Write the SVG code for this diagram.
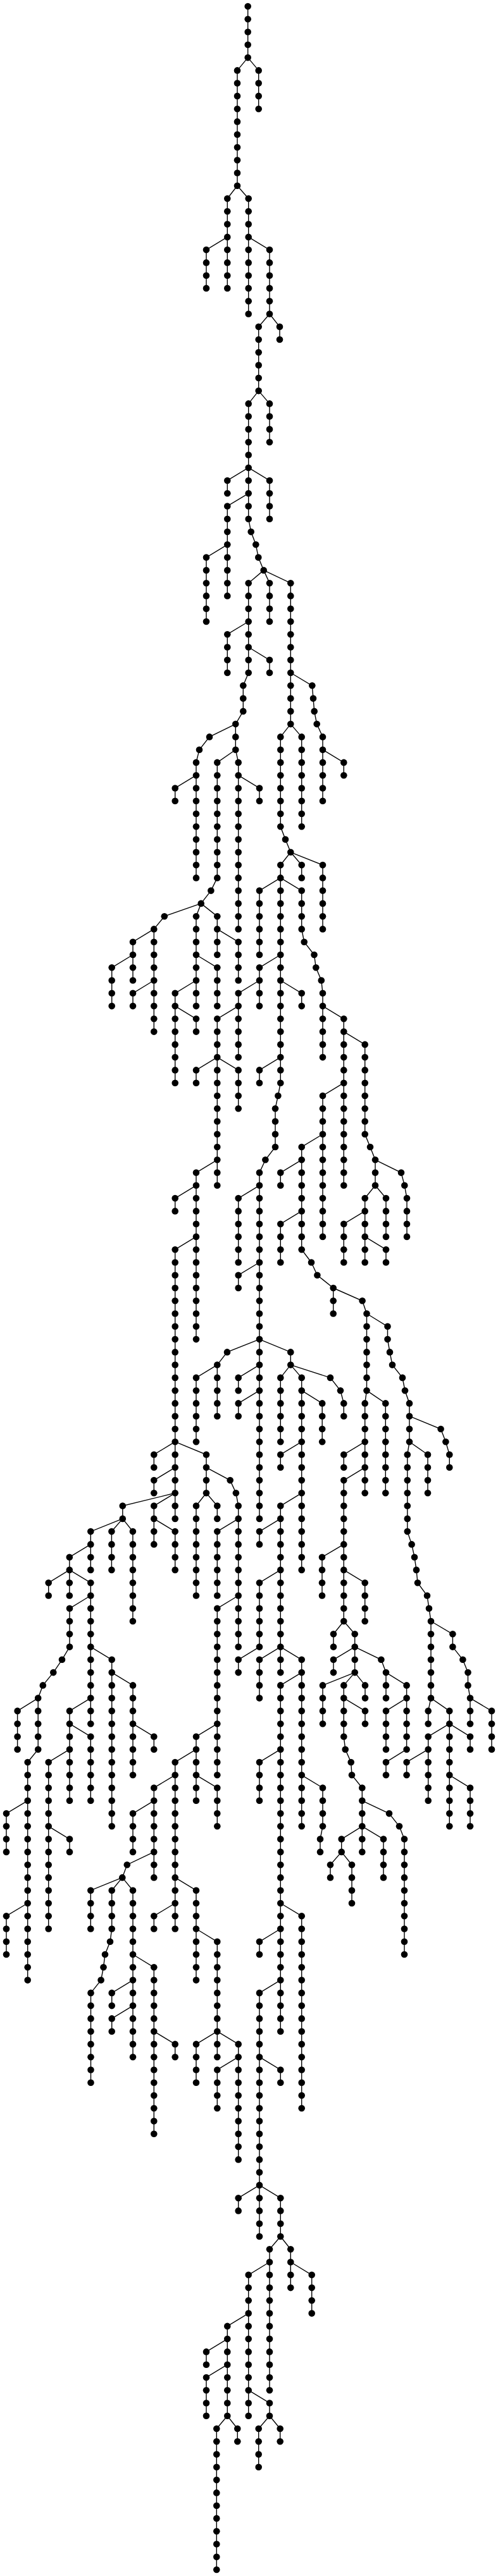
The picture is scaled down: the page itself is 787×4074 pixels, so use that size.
<svg xmlns="http://www.w3.org/2000/svg" width="787" height="4074" viewBox="0 0 787 4074">
<style>
.e polyline{fill:none;stroke:#000;stroke-width:1.4}
.n circle{fill:#000;r:5.3px}
</style>
<rect width="787" height="4074" fill="#fff"/>
<g id="connectors" class="e">
<polyline points="391.7,10 391.7,91.1"/>
<polyline points="391.7,91.1 408.7,111.4 408.7,172.2"/>
<polyline points="391.7,91.1 375,111.4 375,293.8"/>
<polyline points="375,293.8 359.3,314.1 359.3,374.9"/>
<polyline points="375,293.8 392.7,314.1 392.7,374.9"/>
<polyline points="359.3,374.9 326,395.1 326,455.9"/>
<polyline points="359.3,374.9 359.3,455.9"/>
<polyline points="392.7,374.9 392.7,496.5"/>
<polyline points="392.7,374.9 426,395.1 426,496.5"/>
<polyline points="426,496.5 442,516.8 442,537"/>
<polyline points="426,496.5 408.7,516.8 408.7,618.1"/>
<polyline points="408.7,618.1 426,638.4 426,699.2"/>
<polyline points="408.7,618.1 392.7,638.4 392.7,739.7"/>
<polyline points="392.7,739.7 359.3,760 359.3,780.3"/>
<polyline points="392.7,739.7 426,760 426,820.8"/>
<polyline points="392.7,739.7 392.7,780.3"/>
<polyline points="392.7,780.3 359.3,800.5 359.3,861.3"/>
<polyline points="359.3,861.3 326,881.6 326,983"/>
<polyline points="359.3,861.3 359.3,942.4"/>
<polyline points="392.7,780.3 392.7,820.8 396.7,841.1 404.3,861.3 408.3,881.6 416.7,901.9"/>
<polyline points="416.7,901.9 392.7,922.2 392.7,983"/>
<polyline points="416.7,901.9 426,922.2 426,983"/>
<polyline points="416.7,901.9 459.3,922.2 459.3,1064"/>
<polyline points="392.7,983 359.3,1003.2 359.3,1064"/>
<polyline points="392.7,983 392.7,1023.5"/>
<polyline points="392.7,1023.5 426,1043.8 426,1064"/>
<polyline points="392.7,1023.5 392.7,1064 384.3,1084.3 384.3,1124.9 372.3,1145.1"/>
<polyline points="372.3,1145.1 331,1165.4 315,1185.7 310,1205.9 310,1226.2"/>
<polyline points="310,1226.2 276.7,1246.5 276.7,1266.7"/>
<polyline points="310,1226.2 310,1388.4"/>
<polyline points="372.3,1145.1 372.3,1185.7"/>
<polyline points="372.3,1185.7 343.3,1205.9 343.3,1388.4 333.4,1408.6 317.7,1428.9"/>
<polyline points="372.3,1185.7 376.7,1205.9 376.7,1226.2"/>
<polyline points="376.7,1226.2 410,1246.5 410,1266.7"/>
<polyline points="376.7,1226.2 376.7,1469.4"/>
<polyline points="459.3,1064 493.3,1084.3 495,1104.6 496.7,1124.9 500.7,1145.1 510,1165.4 510,1185.7"/>
<polyline points="510,1185.7 543.3,1205.9 543.3,1226.2"/>
<polyline points="510,1185.7 510,1266.7"/>
<polyline points="459.3,1064 459.3,1145.1"/>
<polyline points="459.3,1145.1 443.3,1165.4 443.3,1307.3 451,1327.6 459.3,1347.8"/>
<polyline points="459.3,1145.1 476.7,1165.4 476.7,1307.3"/>
<polyline points="459.3,1347.8 443.3,1368.1 443.3,1388.4"/>
<polyline points="459.3,1347.8 476.7,1368.1 476.7,1388.4"/>
<polyline points="459.3,1347.8 510,1368.1 510,1469.4"/>
<polyline points="443.3,1388.4 410,1408.6 410,1510"/>
<polyline points="443.3,1388.4 476.7,1408.6 476.7,1469.4 480.7,1489.7 496.5,1510 499.3,1530.3 507.8,1550.5 510,1570.8 510,1591.1"/>
<polyline points="510,1591.1 510,1672.1"/>
<polyline points="510,1591.1 543.3,1611.3 543.3,1631.6"/>
<polyline points="543.3,1631.6 576.7,1651.9 576.7,1793.8 585,1814 593,1834.3"/>
<polyline points="593,1834.3 634,1854.6 639.3,1874.8 643,1895.1 643,1955.9"/>
<polyline points="593,1834.3 593,1874.8"/>
<polyline points="593,1874.8 610,1895.1 610,1955.9"/>
<polyline points="593,1874.8 576.7,1895.1 576.7,1915.4"/>
<polyline points="576.7,1915.4 543.3,1935.7 543.3,1996.5"/>
<polyline points="576.7,1915.4 576.7,1955.9"/>
<polyline points="576.7,1955.9 610,1976.2 610,1996.5"/>
<polyline points="576.7,1955.9 576.7,1996.5"/>
<polyline points="543.3,1631.6 543.3,1712.7"/>
<polyline points="543.3,1712.7 543.3,1874.8"/>
<polyline points="543.3,1712.7 510,1733 510,1793.8"/>
<polyline points="510,1793.8 510,1955.9"/>
<polyline points="510,1793.8 476.7,1814 476.7,1834.3"/>
<polyline points="476.7,1834.3 443.3,1854.6 443.3,1874.8"/>
<polyline points="476.7,1834.3 476.7,1915.4"/>
<polyline points="476.7,1915.4 443.3,1935.7 443.3,1996.5"/>
<polyline points="476.7,1915.4 476.7,1976.2 492,1996.5"/>
<polyline points="443.3,1388.4 443.3,1510"/>
<polyline points="443.3,1510 410,1530.3 410,1550.5"/>
<polyline points="410,1550.5 410,1591.1"/>
<polyline points="410,1550.5 376.7,1570.8 376.7,1591.1"/>
<polyline points="376.7,1591.1 376.7,1672.1"/>
<polyline points="376.7,1591.1 343.3,1611.3 343.3,1672.1"/>
<polyline points="343.3,1672.1 310,1692.4 310,1712.7"/>
<polyline points="343.3,1672.1 376.7,1692.4 376.7,1753.2"/>
<polyline points="343.3,1672.1 343.3,1834.3"/>
<polyline points="343.3,1834.3 343.3,1874.8"/>
<polyline points="343.3,1834.3 310,1854.6 310,1874.8"/>
<polyline points="310,1874.8 276.7,1895.1 276.7,1915.4"/>
<polyline points="310,1874.8 310,1955.9"/>
<polyline points="310,1955.9 276.7,1976.2 276.7,2280.2"/>
<polyline points="310,1955.9 310,2118.1"/>
<polyline points="443.3,1510 443.3,1550.5"/>
<polyline points="443.3,1550.5 476.7,1570.8 476.7,1591.1"/>
<polyline points="443.3,1550.5 443.3,1672.1"/>
<polyline points="443.3,1672.1 410,1692.4 410,1712.7"/>
<polyline points="443.3,1672.1 443.3,1712.7 439.4,1733 435,1753.2 435,1814 419.4,1834.3 410,1854.6 410,1874.8"/>
<polyline points="410,1874.8 376.7,1895.1 376.7,1996.5"/>
<polyline points="410,1874.8 410,2118.1"/>
<polyline points="410,1996.5 376.7,2016.7 376.7,2037"/>
<polyline points="317.7,1428.9 259.8,1449.2 243.3,1469.4"/>
<polyline points="243.3,1469.4 210,1489.7 210,1510"/>
<polyline points="210,1510 176.7,1530.3 176.7,1591.1"/>
<polyline points="210,1510 210,1550.5"/>
<polyline points="243.3,1469.4 243.3,1550.5"/>
<polyline points="243.3,1550.5 210,1570.8 210,1591.1"/>
<polyline points="243.3,1550.5 243.3,1631.6"/>
<polyline points="317.7,1428.9 310,1449.2 310,1510"/>
<polyline points="310,1510 343.3,1530.3 343.3,1591.1"/>
<polyline points="310,1510 310,1550.5"/>
<polyline points="310,1550.5 276.7,1570.8 276.7,1591.1"/>
<polyline points="276.7,1591.1 310,1611.3 310,1631.6"/>
<polyline points="276.7,1591.1 276.7,1712.7"/>
<polyline points="310,1550.5 310,1591.1"/>
<polyline points="317.7,1428.9 343.3,1449.2 343.3,1469.4"/>
<polyline points="343.3,1469.4 376.7,1489.7 376.7,1550.5"/>
<polyline points="343.3,1469.4 343.3,1510"/>
<polyline points="410,2118.1 359,2138.4 343.3,2158.6"/>
<polyline points="343.3,2158.6 310,2178.9 310,2280.2"/>
<polyline points="343.3,2158.6 343.3,2239.7"/>
<polyline points="410,2118.1 410,2158.6"/>
<polyline points="410,2158.6 376.7,2178.9 376.7,2199.2"/>
<polyline points="410,2158.6 410,2199.2"/>
<polyline points="410,2199.2 376.7,2219.4 376.7,2239.7"/>
<polyline points="410,2199.2 410,2401.9"/>
<polyline points="410,2118.1 459.3,2138.4 459.3,2158.6"/>
<polyline points="459.3,2158.6 443.3,2178.9 443.3,2280.2"/>
<polyline points="459.3,2158.6 476.7,2178.9 476.7,2199.2"/>
<polyline points="476.7,2199.2 509.2,2219.4 509.2,2280.2"/>
<polyline points="476.7,2199.2 476.7,2280.2"/>
<polyline points="476.7,2280.2 443.3,2300.5 443.3,2320.8"/>
<polyline points="476.7,2280.2 476.7,2361.3"/>
<polyline points="476.7,2361.3 443.3,2381.6 443.3,2401.9"/>
<polyline points="443.3,2401.9 410,2422.1 410,2442.4"/>
<polyline points="443.3,2401.9 443.3,2482.9"/>
<polyline points="443.3,2482.9 410,2503.2 410,2604.6"/>
<polyline points="443.3,2482.9 443.3,2604.6"/>
<polyline points="476.7,2361.3 476.7,2482.9"/>
<polyline points="459.3,2158.6 522,2178.9 538,2199.2 543.3,2219.4 543.3,2239.7"/>
<polyline points="492,1996.5 501.4,2016.7 526.7,2037"/>
<polyline points="526.7,2037 526.7,2077.5"/>
<polyline points="526.7,2037 572.6,2057.3 579.5,2077.5"/>
<polyline points="579.5,2077.5 579.5,2199.2"/>
<polyline points="579.5,2199.2 609.3,2219.4 609.3,2361.3"/>
<polyline points="579.5,2199.2 576.7,2219.4 576.7,2280.2"/>
<polyline points="576.7,2280.2 543.3,2300.5 543.3,2320.8"/>
<polyline points="576.7,2280.2 576.7,2361.3"/>
<polyline points="576.7,2320.8 543.3,2341.1 543.3,2482.9"/>
<polyline points="543.3,2442.4 509,2462.7 509,2523.5"/>
<polyline points="543.3,2482.9 543.3,2564"/>
<polyline points="543.3,2482.9 576.7,2503.2 576.7,2564"/>
<polyline points="579.5,2077.5 612.5,2097.8 612.5,2118.1 616,2138.4 620,2158.6 636,2178.9 640,2199.2 647,2219.4 647,2239.7"/>
<polyline points="647,2239.7 696.6,2260 704.4,2280.2 710.3,2300.5 710.3,2320.8"/>
<polyline points="647,2239.7 647,2280.2"/>
<polyline points="647,2280.2 676,2300.5 676,2361.3"/>
<polyline points="647,2280.2 643.8,2300.5 643.8,2422.1 650.6,2442.4 655,2462.7 658,2482.9 660,2503.2 675,2523.5 678,2543.8 681,2564"/>
<polyline points="276.7,2280.2 243.3,2300.5 243.3,2320.8"/>
<polyline points="276.7,2280.2 276.7,2361.3"/>
<polyline points="276.7,2320.8 243.3,2341.1 243.3,2361.3"/>
<polyline points="276.7,2361.3 276.7,2401.9"/>
<polyline points="276.7,2361.3 243.3,2381.6 243.3,2442.4"/>
<polyline points="243.3,2401.9 276.7,2422.1 276.7,2482.9"/>
<polyline points="276.7,2361.3 193.8,2381.6 193.8,2401.9"/>
<polyline points="193.8,2401.9 176.4,2422.1 176.4,2482.9"/>
<polyline points="193.8,2401.9 209.9,2422.1 209.9,2564"/>
<polyline points="193.8,2401.9 143.3,2422.1 143.3,2482.9"/>
<polyline points="143.3,2442.4 109.8,2462.7 109.8,2482.9"/>
<polyline points="276.7,2280.2 326,2300.5 326,2361.3"/>
<polyline points="326,2320.8 363.7,2341.1 372.9,2361.3 376.7,2381.6 376.7,2604.6"/>
<polyline points="376.7,2401.9 343.3,2422.1 343.3,2523.5"/>
<polyline points="326,2361.3 343.3,2381.6 343.3,2401.9"/>
<polyline points="326,2361.3 310,2381.6 310,2523.5"/>
<polyline points="109.8,2482.9 76.7,2503.2 76.7,2523.5"/>
<polyline points="109.8,2482.9 109.8,2523.5"/>
<polyline points="109.8,2482.9 143.3,2503.2 143.3,2726.2"/>
<polyline points="143.3,2523.5 110,2543.8 110,2604.6 98,2624.8 84.3,2645.1 67.8,2665.4 60.2,2685.6"/>
<polyline points="60.2,2685.6 27.6,2705.9 27.6,2766.7"/>
<polyline points="60.2,2685.6 60.2,2766.7 43.7,2787 43.7,3010"/>
<polyline points="43.7,2847.8 10,2868.1 10,2928.9"/>
<polyline points="43.7,3010 10,3030.2 10,3091"/>
<polyline points="43.7,3010 43.7,3131.6"/>
<polyline points="143.3,2604.6 176.7,2624.8 176.7,2888.3"/>
<polyline points="176.7,2645.1 210,2665.4 210,2807.3"/>
<polyline points="210,2726.2 243.3,2746.5 243.3,2766.7"/>
<polyline points="143.3,2685.6 110,2705.9 110,2726.2"/>
<polyline points="110,2726.2 143.3,2746.5 143.3,2847.8"/>
<polyline points="110,2726.2 110,2766.7"/>
<polyline points="110,2766.7 110,2847.8"/>
<polyline points="110,2766.7 76.7,2787 76.7,3050.5"/>
<polyline points="76.7,2888.3 110,2908.6 110,2928.9"/>
<polyline points="376.7,2523.5 343.3,2543.8 343.3,2807.3"/>
<polyline points="343.3,2726.2 310,2746.5 310,2847.8"/>
<polyline points="310,2766.7 276.7,2787 276.7,3050.5"/>
<polyline points="310,2807.3 343.3,2827.5 343.3,2888.3"/>
<polyline points="276.7,2807.3 243.3,2827.5 243.3,2969.4"/>
<polyline points="243.3,2847.8 210,2868.1 210,2928.9"/>
<polyline points="243.3,2928.9 200.8,2949.2 193.3,2969.4"/>
<polyline points="193.3,2969.4 143.3,2989.7 143.3,3050.5"/>
<polyline points="193.3,2969.4 176.7,2989.7 176.7,3050.5 174,3070.8 166,3091 163.5,3111.3 159.6,3131.6 143.5,3151.9 143.5,3293.7"/>
<polyline points="193.3,2969.4 210,2989.7 210,3253.2"/>
<polyline points="276.7,2969.4 310,2989.7 310,3131.6"/>
<polyline points="276.7,3010 243.3,3030.2 243.3,3050.5"/>
<polyline points="310,3050.5 343.3,3070.8 343.3,3212.7"/>
<polyline points="343.3,3212.7 310,3232.9 310,3293.7"/>
<polyline points="343.3,3212.7 343.3,3253.2"/>
<polyline points="343.3,3212.7 376.7,3232.9 376.7,3415.4"/>
<polyline points="376.7,3253.2 343.3,3273.5 343.3,3334.3"/>
<polyline points="210,3091 243.3,3111.3 243.3,3374.8"/>
<polyline points="243.3,3212.7 276.7,3232.9 276.7,3253.2"/>
<polyline points="210,3131.6 176.7,3151.9 176.7,3172.1"/>
<polyline points="210,3172.1 176.7,3192.4 176.7,3212.7"/>
<polyline points="410,2604.6 376.7,2624.8 376.7,2645.1"/>
<polyline points="443.3,2604.6 410,2624.8 410,2685.6"/>
<polyline points="443.3,2604.6 443.3,2645.1"/>
<polyline points="443.3,2604.6 476.7,2624.8 476.7,2888.3"/>
<polyline points="476.7,2645.1 443.3,2665.4 443.3,3212.7"/>
<polyline points="443.3,2766.7 410,2787 410,2847.8"/>
<polyline points="476.7,2807.3 510,2827.5 510,2888.3 506,2908.6 506,2928.9"/>
<polyline points="443.3,3010 476.7,3030.2 476.7,3334.3"/>
<polyline points="443.3,3050.5 410,3070.8 410,3091"/>
<polyline points="443.3,3131.6 410,3151.9 410,3455.9"/>
<polyline points="410,3253.2 443.3,3273.5 443.3,3293.7"/>
<polyline points="410,3455.9 376.7,3476.2 376.7,3496.4"/>
<polyline points="410,3455.9 410,3537"/>
<polyline points="410,3455.9 443.3,3476.2 443.3,3537"/>
<polyline points="443.3,3537 426,3557.3 426,3780.2"/>
<polyline points="426,3577.5 392.7,3597.8 392.7,3820.8"/>
<polyline points="392.7,3658.6 359.3,3678.9 359.3,3820.8"/>
<polyline points="359.3,3699.1 326,3719.4 326,3739.7"/>
<polyline points="359.3,3739.7 326,3760 326,3820.8"/>
<polyline points="359.3,3820.8 342.3,3841 342.3,4064"/>
<polyline points="359.3,3820.8 375.3,3841 375.3,3861.3"/>
<polyline points="392.7,3780.2 426,3800.5 426,3820.8"/>
<polyline points="426,3820.8 408.7,3841 408.7,3901.8"/>
<polyline points="426,3820.8 442.7,3841 442.7,3861.3"/>
<polyline points="443.3,3537 459.3,3557.3 459.3,3618.1"/>
<polyline points="459.3,3577.5 492.7,3597.8 492.7,3658.6"/>
<polyline points="543.3,2564 527,2584.3 527,2604.6"/>
<polyline points="543.3,2564 560.7,2584.3 560.7,2604.6"/>
<polyline points="560.7,2604.6 527,2624.8 527,2645.1"/>
<polyline points="560.7,2604.6 560.7,2645.1"/>
<polyline points="560.7,2645.1 510,2665.4 510,2726.2"/>
<polyline points="560.7,2645.1 577,2665.4 577,2685.6"/>
<polyline points="560.7,2645.1 543.3,2665.4 543.3,2746.5 545.7,2766.7 554.7,2787 556,2807.3 572.3,2827.5 572.3,2847.8"/>
<polyline points="543.3,2685.6 577,2705.9 577,2726.2"/>
<polyline points="572.3,2847.8 615,2868.1 631,2888.3 639,2908.6 639,3091"/>
<polyline points="572.3,2847.8 572.3,2928.9"/>
<polyline points="572.3,2888.3 606,2908.6 606,2969.4"/>
<polyline points="572.3,2888.3 539.7,2908.6 539.7,2928.9"/>
<polyline points="539.7,2928.9 522,2949.2 522,2969.4"/>
<polyline points="539.7,2928.9 556,2949.2 556,3010"/>
<polyline points="560.7,2604.6 602.4,2624.8 610,2645.1"/>
<polyline points="610,2645.1 610,2685.6"/>
<polyline points="610,2645.1 642.6,2665.4 642.6,2766.7"/>
<polyline points="642.6,2685.6 610,2705.9 610,2766.7"/>
<polyline points="642.6,2766.7 610,2787 610,2807.3"/>
<polyline points="681,2564 715.4,2584.3 715.4,2604.6 731.4,2624.8 739.5,2645.1 739.5,2665.4 743,2685.6"/>
<polyline points="743,2685.6 743,2726.2"/>
<polyline points="743,2685.6 777,2705.9 777,2766.7"/>
<polyline points="681,2564 681,2685.6"/>
<polyline points="681,2685.6 676.7,2705.9 676.7,2726.2"/>
<polyline points="681,2685.6 710.3,2705.9 710.3,2726.2"/>
<polyline points="710.3,2726.2 676.7,2746.5 676.7,2847.8"/>
<polyline points="710.3,2726.2 710.3,2888.3"/>
<polyline points="710.3,2726.2 743,2746.5 743,2766.7"/>
<polyline points="676.7,2766.7 642.6,2787 642.6,2807.3"/>
<polyline points="710.3,2807.3 743,2827.5 743,2888.3"/>
</g>
<g id="nodes" class="n">
<g id="a1"><circle cx="391.7" cy="10"/></g><g id="a2"><circle cx="391.7" cy="30.3"/></g><g id="a3"><circle cx="391.7" cy="50.5"/></g><g id="a4"><circle cx="391.7" cy="70.8"/></g><g id="a5"><circle cx="391.7" cy="91.1"/></g>
<g id="b1"><circle cx="408.7" cy="111.4"/></g><g id="b2"><circle cx="408.7" cy="131.6"/></g><g id="b3"><circle cx="408.7" cy="151.9"/></g><g id="b4"><circle cx="408.7" cy="172.2"/></g>
<g id="c1"><circle cx="375" cy="111.4"/></g><g id="c2"><circle cx="375" cy="131.6"/></g><g id="c3"><circle cx="375" cy="151.9"/></g><g id="c4"><circle cx="375" cy="172.2"/></g><g id="c5"><circle cx="375" cy="192.4"/></g><g id="c6"><circle cx="375" cy="212.7"/></g><g id="c7"><circle cx="375" cy="233"/></g><g id="c8"><circle cx="375" cy="253.2"/></g><g id="c9"><circle cx="375" cy="273.5"/></g><g id="c10"><circle cx="375" cy="293.8"/></g>
<g id="d1"><circle cx="359.3" cy="314.1"/></g><g id="d2"><circle cx="359.3" cy="334.3"/></g><g id="d3"><circle cx="359.3" cy="354.6"/></g><g id="d4"><circle cx="359.3" cy="374.9"/></g>
<g id="e1"><circle cx="392.7" cy="314.1"/></g><g id="e2"><circle cx="392.7" cy="334.3"/></g><g id="e3"><circle cx="392.7" cy="354.6"/></g><g id="e4"><circle cx="392.7" cy="374.9"/></g>
<g id="f1"><circle cx="326" cy="395.1"/></g><g id="f2"><circle cx="326" cy="415.4"/></g><g id="f3"><circle cx="326" cy="435.7"/></g><g id="f4"><circle cx="326" cy="455.9"/></g>
<g id="g1"><circle cx="359.3" cy="395.1"/></g><g id="g2"><circle cx="359.3" cy="415.4"/></g><g id="g3"><circle cx="359.3" cy="435.7"/></g><g id="g4"><circle cx="359.3" cy="455.9"/></g>
<g id="h1"><circle cx="392.7" cy="395.1"/></g><g id="h2"><circle cx="392.7" cy="415.4"/></g><g id="h3"><circle cx="392.7" cy="435.7"/></g><g id="h4"><circle cx="392.7" cy="455.9"/></g><g id="h5"><circle cx="392.7" cy="476.2"/></g><g id="h6"><circle cx="392.7" cy="496.5"/></g>
<g id="i1"><circle cx="426" cy="395.1"/></g><g id="i2"><circle cx="426" cy="415.4"/></g><g id="i3"><circle cx="426" cy="435.7"/></g><g id="i4"><circle cx="426" cy="455.9"/></g><g id="i5"><circle cx="426" cy="476.2"/></g><g id="i6"><circle cx="426" cy="496.5"/></g>
<g id="j1"><circle cx="442" cy="516.8"/></g><g id="j2"><circle cx="442" cy="537"/></g>
<g id="k1"><circle cx="408.7" cy="516.8"/></g><g id="k2"><circle cx="408.7" cy="537"/></g><g id="k3"><circle cx="408.7" cy="557.3"/></g><g id="k4"><circle cx="408.7" cy="577.6"/></g><g id="k5"><circle cx="408.7" cy="597.8"/></g><g id="k6"><circle cx="408.7" cy="618.1"/></g>
<g id="l1"><circle cx="426" cy="638.4"/></g><g id="l2"><circle cx="426" cy="658.6"/></g><g id="l3"><circle cx="426" cy="678.9"/></g><g id="l4"><circle cx="426" cy="699.2"/></g>
<g id="m1"><circle cx="392.7" cy="638.4"/></g><g id="m2"><circle cx="392.7" cy="658.6"/></g><g id="m3"><circle cx="392.7" cy="678.9"/></g><g id="m4"><circle cx="392.7" cy="699.2"/></g><g id="m5"><circle cx="392.7" cy="719.5"/></g><g id="m6"><circle cx="392.7" cy="739.7"/></g>
<g id="n1"><circle cx="359.3" cy="760"/></g><g id="n2"><circle cx="359.3" cy="780.3"/></g>
<g id="o1"><circle cx="426" cy="760"/></g><g id="o2"><circle cx="426" cy="780.3"/></g><g id="o3"><circle cx="426" cy="800.5"/></g><g id="o4"><circle cx="426" cy="820.8"/></g>
<g id="p1"><circle cx="392.7" cy="760"/></g><g id="p2"><circle cx="392.7" cy="780.3"/></g>
<g id="q1"><circle cx="359.3" cy="800.5"/></g><g id="q2"><circle cx="359.3" cy="820.8"/></g><g id="q3"><circle cx="359.3" cy="841.1"/></g><g id="q4"><circle cx="359.3" cy="861.3"/></g>
<g id="r1"><circle cx="326" cy="881.6"/></g><g id="r2"><circle cx="326" cy="901.9"/></g><g id="r3"><circle cx="326" cy="922.2"/></g><g id="r4"><circle cx="326" cy="942.4"/></g><g id="r5"><circle cx="326" cy="962.7"/></g><g id="r6"><circle cx="326" cy="983"/></g>
<g id="s1"><circle cx="359.3" cy="881.6"/></g><g id="s2"><circle cx="359.3" cy="901.9"/></g><g id="s3"><circle cx="359.3" cy="922.2"/></g><g id="s4"><circle cx="359.3" cy="942.4"/></g>
<g id="t1"><circle cx="392.7" cy="800.5"/></g><g id="t2"><circle cx="392.7" cy="820.8"/></g><g id="t3"><circle cx="396.7" cy="841.1"/></g><g id="t4"><circle cx="404.3" cy="861.3"/></g><g id="t5"><circle cx="408.3" cy="881.6"/></g><g id="t6"><circle cx="416.7" cy="901.9"/></g>
<g id="u1"><circle cx="392.7" cy="922.2"/></g><g id="u2"><circle cx="392.7" cy="942.4"/></g><g id="u3"><circle cx="392.7" cy="962.7"/></g><g id="u4"><circle cx="392.7" cy="983"/></g>
<g id="v1"><circle cx="426" cy="922.2"/></g><g id="v2"><circle cx="426" cy="942.4"/></g><g id="v3"><circle cx="426" cy="962.7"/></g><g id="v4"><circle cx="426" cy="983"/></g>
<g id="w1"><circle cx="459.3" cy="922.2"/></g><g id="w2"><circle cx="459.3" cy="942.4"/></g><g id="w3"><circle cx="459.3" cy="962.7"/></g><g id="w4"><circle cx="459.3" cy="983"/></g><g id="w5"><circle cx="459.3" cy="1003.2"/></g><g id="w6"><circle cx="459.3" cy="1023.5"/></g><g id="w7"><circle cx="459.3" cy="1043.8"/></g><g id="w8"><circle cx="459.3" cy="1064"/></g>
<g id="x1"><circle cx="359.3" cy="1003.2"/></g><g id="x2"><circle cx="359.3" cy="1023.5"/></g><g id="x3"><circle cx="359.3" cy="1043.8"/></g><g id="x4"><circle cx="359.3" cy="1064"/></g>
<g id="y1"><circle cx="392.7" cy="1003.2"/></g><g id="y2"><circle cx="392.7" cy="1023.5"/></g>
<g id="z1"><circle cx="426" cy="1043.8"/></g><g id="z2"><circle cx="426" cy="1064"/></g>
<g id="aa1"><circle cx="392.7" cy="1043.8"/></g><g id="aa2"><circle cx="392.7" cy="1064"/></g><g id="aa3"><circle cx="384.3" cy="1084.3"/></g><g id="aa4"><circle cx="384.3" cy="1104.6"/></g><g id="aa5"><circle cx="384.3" cy="1124.9"/></g><g id="aa6"><circle cx="372.3" cy="1145.1"/></g>
<g id="ab1"><circle cx="331" cy="1165.4"/></g><g id="ab2"><circle cx="315" cy="1185.7"/></g><g id="ab3"><circle cx="310" cy="1205.9"/></g><g id="ab4"><circle cx="310" cy="1226.2"/></g>
<g id="ac1"><circle cx="276.7" cy="1246.5"/></g><g id="ac2"><circle cx="276.7" cy="1266.7"/></g>
<g id="ad1"><circle cx="310" cy="1246.5"/></g><g id="ad2"><circle cx="310" cy="1266.7"/></g><g id="ad3"><circle cx="310" cy="1287"/></g><g id="ad4"><circle cx="310" cy="1307.3"/></g><g id="ad5"><circle cx="310" cy="1327.6"/></g><g id="ad6"><circle cx="310" cy="1347.8"/></g><g id="ad7"><circle cx="310" cy="1368.1"/></g><g id="ad8"><circle cx="310" cy="1388.4"/></g>
<g id="ae1"><circle cx="372.3" cy="1165.4"/></g><g id="ae2"><circle cx="372.3" cy="1185.7"/></g>
<g id="af1"><circle cx="343.3" cy="1205.9"/></g><g id="af2"><circle cx="343.3" cy="1226.2"/></g><g id="af3"><circle cx="343.3" cy="1246.5"/></g><g id="af4"><circle cx="343.3" cy="1266.7"/></g><g id="af5"><circle cx="343.3" cy="1287"/></g><g id="af6"><circle cx="343.3" cy="1307.3"/></g><g id="af7"><circle cx="343.3" cy="1327.6"/></g><g id="af8"><circle cx="343.3" cy="1347.8"/></g><g id="af9"><circle cx="343.3" cy="1368.1"/></g><g id="af10"><circle cx="343.3" cy="1388.4"/></g><g id="af11"><circle cx="333.4" cy="1408.6"/></g><g id="af12"><circle cx="317.7" cy="1428.9"/></g>
<g id="ag1"><circle cx="376.7" cy="1205.9"/></g><g id="ag2"><circle cx="376.7" cy="1226.2"/></g>
<g id="ah1"><circle cx="410" cy="1246.5"/></g><g id="ah2"><circle cx="410" cy="1266.7"/></g>
<g id="ai1"><circle cx="376.7" cy="1246.5"/></g><g id="ai2"><circle cx="376.7" cy="1266.7"/></g><g id="ai3"><circle cx="376.7" cy="1287"/></g><g id="ai4"><circle cx="376.7" cy="1307.3"/></g><g id="ai5"><circle cx="376.7" cy="1327.6"/></g><g id="ai6"><circle cx="376.7" cy="1347.8"/></g><g id="ai7"><circle cx="376.7" cy="1368.1"/></g><g id="ai8"><circle cx="376.7" cy="1388.4"/></g><g id="ai9"><circle cx="376.7" cy="1408.6"/></g><g id="ai10"><circle cx="376.7" cy="1428.9"/></g><g id="ai11"><circle cx="376.7" cy="1449.2"/></g><g id="ai12"><circle cx="376.7" cy="1469.4"/></g>
<g id="aj1"><circle cx="493.3" cy="1084.3"/></g><g id="aj2"><circle cx="495" cy="1104.6"/></g><g id="aj3"><circle cx="496.7" cy="1124.9"/></g><g id="aj4"><circle cx="500.7" cy="1145.1"/></g><g id="aj5"><circle cx="510" cy="1165.4"/></g><g id="aj6"><circle cx="510" cy="1185.7"/></g>
<g id="ak1"><circle cx="543.3" cy="1205.9"/></g><g id="ak2"><circle cx="543.3" cy="1226.2"/></g>
<g id="al1"><circle cx="510" cy="1205.9"/></g><g id="al2"><circle cx="510" cy="1226.2"/></g><g id="al3"><circle cx="510" cy="1246.5"/></g><g id="al4"><circle cx="510" cy="1266.7"/></g>
<g id="am1"><circle cx="459.3" cy="1084.3"/></g><g id="am2"><circle cx="459.3" cy="1104.6"/></g><g id="am3"><circle cx="459.3" cy="1124.9"/></g><g id="am4"><circle cx="459.3" cy="1145.1"/></g>
<g id="an1"><circle cx="443.3" cy="1165.4"/></g><g id="an2"><circle cx="443.3" cy="1185.7"/></g><g id="an3"><circle cx="443.3" cy="1205.9"/></g><g id="an4"><circle cx="443.3" cy="1226.2"/></g><g id="an5"><circle cx="443.3" cy="1246.5"/></g><g id="an6"><circle cx="443.3" cy="1266.7"/></g><g id="an7"><circle cx="443.3" cy="1287"/></g><g id="an8"><circle cx="443.3" cy="1307.3"/></g><g id="an9"><circle cx="451" cy="1327.6"/></g><g id="an10"><circle cx="459.3" cy="1347.8"/></g>
<g id="ao1"><circle cx="476.7" cy="1165.4"/></g><g id="ao2"><circle cx="476.7" cy="1185.7"/></g><g id="ao3"><circle cx="476.7" cy="1205.9"/></g><g id="ao4"><circle cx="476.7" cy="1226.2"/></g><g id="ao5"><circle cx="476.7" cy="1246.5"/></g><g id="ao6"><circle cx="476.7" cy="1266.7"/></g><g id="ao7"><circle cx="476.7" cy="1287"/></g><g id="ao8"><circle cx="476.7" cy="1307.3"/></g>
<g id="ap1"><circle cx="443.3" cy="1368.1"/></g><g id="ap2"><circle cx="443.3" cy="1388.4"/></g>
<g id="aq1"><circle cx="476.7" cy="1368.1"/></g><g id="aq2"><circle cx="476.7" cy="1388.4"/></g>
<g id="ar1"><circle cx="510" cy="1368.1"/></g><g id="ar2"><circle cx="510" cy="1388.4"/></g><g id="ar3"><circle cx="510" cy="1408.6"/></g><g id="ar4"><circle cx="510" cy="1428.9"/></g><g id="ar5"><circle cx="510" cy="1449.2"/></g><g id="ar6"><circle cx="510" cy="1469.4"/></g>
<g id="as1"><circle cx="410" cy="1408.6"/></g><g id="as2"><circle cx="410" cy="1428.9"/></g><g id="as3"><circle cx="410" cy="1449.2"/></g><g id="as4"><circle cx="410" cy="1469.4"/></g><g id="as5"><circle cx="410" cy="1489.7"/></g><g id="as6"><circle cx="410" cy="1510"/></g>
<g id="at1"><circle cx="476.7" cy="1408.6"/></g><g id="at2"><circle cx="476.7" cy="1428.9"/></g><g id="at3"><circle cx="476.7" cy="1449.2"/></g><g id="at4"><circle cx="476.7" cy="1469.4"/></g><g id="at5"><circle cx="480.7" cy="1489.7"/></g><g id="at6"><circle cx="496.5" cy="1510"/></g><g id="at7"><circle cx="499.3" cy="1530.3"/></g><g id="at8"><circle cx="507.8" cy="1550.5"/></g><g id="at9"><circle cx="510" cy="1570.8"/></g><g id="at10"><circle cx="510" cy="1591.1"/></g>
<g id="au1"><circle cx="510" cy="1611.3"/></g><g id="au2"><circle cx="510" cy="1631.6"/></g><g id="au3"><circle cx="510" cy="1651.9"/></g><g id="au4"><circle cx="510" cy="1672.1"/></g>
<g id="av1"><circle cx="543.3" cy="1611.3"/></g><g id="av2"><circle cx="543.3" cy="1631.6"/></g>
<g id="aw1"><circle cx="576.7" cy="1651.9"/></g><g id="aw2"><circle cx="576.7" cy="1672.1"/></g><g id="aw3"><circle cx="576.7" cy="1692.4"/></g><g id="aw4"><circle cx="576.7" cy="1712.7"/></g><g id="aw5"><circle cx="576.7" cy="1733"/></g><g id="aw6"><circle cx="576.7" cy="1753.2"/></g><g id="aw7"><circle cx="576.7" cy="1773.5"/></g><g id="aw8"><circle cx="576.7" cy="1793.8"/></g><g id="aw9"><circle cx="585" cy="1814"/></g><g id="aw10"><circle cx="593" cy="1834.3"/></g>
<g id="ax1"><circle cx="634" cy="1854.6"/></g><g id="ax2"><circle cx="639.3" cy="1874.8"/></g><g id="ax3"><circle cx="643" cy="1895.1"/></g><g id="ax4"><circle cx="643" cy="1915.4"/></g><g id="ax5"><circle cx="643" cy="1935.7"/></g><g id="ax6"><circle cx="643" cy="1955.9"/></g>
<g id="ay1"><circle cx="593" cy="1854.6"/></g><g id="ay2"><circle cx="593" cy="1874.8"/></g>
<g id="az1"><circle cx="610" cy="1895.1"/></g><g id="az2"><circle cx="610" cy="1915.4"/></g><g id="az3"><circle cx="610" cy="1935.7"/></g><g id="az4"><circle cx="610" cy="1955.9"/></g>
<g id="ba1"><circle cx="576.7" cy="1895.1"/></g><g id="ba2"><circle cx="576.7" cy="1915.4"/></g>
<g id="bb1"><circle cx="543.3" cy="1935.7"/></g><g id="bb2"><circle cx="543.3" cy="1955.9"/></g><g id="bb3"><circle cx="543.3" cy="1976.2"/></g><g id="bb4"><circle cx="543.3" cy="1996.5"/></g>
<g id="bc1"><circle cx="576.7" cy="1935.7"/></g><g id="bc2"><circle cx="576.7" cy="1955.9"/></g>
<g id="bd1"><circle cx="610" cy="1976.2"/></g><g id="bd2"><circle cx="610" cy="1996.5"/></g>
<g id="be1"><circle cx="576.7" cy="1976.2"/></g><g id="be2"><circle cx="576.7" cy="1996.5"/></g>
<g id="bf1"><circle cx="543.3" cy="1651.9"/></g><g id="bf2"><circle cx="543.3" cy="1672.1"/></g><g id="bf3"><circle cx="543.3" cy="1692.4"/></g><g id="bf4"><circle cx="543.3" cy="1712.7"/></g>
<g id="bg1"><circle cx="543.3" cy="1733"/></g><g id="bg2"><circle cx="543.3" cy="1753.2"/></g><g id="bg3"><circle cx="543.3" cy="1773.5"/></g><g id="bg4"><circle cx="543.3" cy="1793.8"/></g><g id="bg5"><circle cx="543.3" cy="1814"/></g><g id="bg6"><circle cx="543.3" cy="1834.3"/></g><g id="bg7"><circle cx="543.3" cy="1854.6"/></g><g id="bg8"><circle cx="543.3" cy="1874.8"/></g>
<g id="bh1"><circle cx="510" cy="1733"/></g><g id="bh2"><circle cx="510" cy="1753.2"/></g><g id="bh3"><circle cx="510" cy="1773.5"/></g><g id="bh4"><circle cx="510" cy="1793.8"/></g>
<g id="bi1"><circle cx="510" cy="1814"/></g><g id="bi2"><circle cx="510" cy="1834.3"/></g><g id="bi3"><circle cx="510" cy="1854.6"/></g><g id="bi4"><circle cx="510" cy="1874.8"/></g><g id="bi5"><circle cx="510" cy="1895.1"/></g><g id="bi6"><circle cx="510" cy="1915.4"/></g><g id="bi7"><circle cx="510" cy="1935.7"/></g><g id="bi8"><circle cx="510" cy="1955.9"/></g>
<g id="bj1"><circle cx="476.7" cy="1814"/></g><g id="bj2"><circle cx="476.7" cy="1834.3"/></g>
<g id="bk1"><circle cx="443.3" cy="1854.6"/></g><g id="bk2"><circle cx="443.3" cy="1874.8"/></g>
<g id="bl1"><circle cx="476.7" cy="1854.6"/></g><g id="bl2"><circle cx="476.7" cy="1874.8"/></g><g id="bl3"><circle cx="476.7" cy="1895.1"/></g><g id="bl4"><circle cx="476.7" cy="1915.4"/></g>
<g id="bm1"><circle cx="443.3" cy="1935.7"/></g><g id="bm2"><circle cx="443.3" cy="1955.9"/></g><g id="bm3"><circle cx="443.3" cy="1976.2"/></g><g id="bm4"><circle cx="443.3" cy="1996.5"/></g>
<g id="bn1"><circle cx="476.7" cy="1935.7"/></g><g id="bn2"><circle cx="476.7" cy="1955.9"/></g><g id="bn3"><circle cx="476.7" cy="1976.2"/></g><g id="bn4"><circle cx="492" cy="1996.5"/></g>
<g id="bo1"><circle cx="443.3" cy="1408.6"/></g><g id="bo2"><circle cx="443.3" cy="1428.9"/></g><g id="bo3"><circle cx="443.3" cy="1449.2"/></g><g id="bo4"><circle cx="443.3" cy="1469.4"/></g><g id="bo5"><circle cx="443.3" cy="1489.7"/></g><g id="bo6"><circle cx="443.3" cy="1510"/></g>
<g id="bp1"><circle cx="410" cy="1530.3"/></g><g id="bp2"><circle cx="410" cy="1550.5"/></g>
<g id="bq1"><circle cx="410" cy="1570.8"/></g><g id="bq2"><circle cx="410" cy="1591.1"/></g>
<g id="br1"><circle cx="376.7" cy="1570.8"/></g><g id="br2"><circle cx="376.7" cy="1591.1"/></g>
<g id="bs1"><circle cx="376.7" cy="1611.3"/></g><g id="bs2"><circle cx="376.7" cy="1631.6"/></g><g id="bs3"><circle cx="376.7" cy="1651.9"/></g><g id="bs4"><circle cx="376.7" cy="1672.1"/></g>
<g id="bt1"><circle cx="343.3" cy="1611.3"/></g><g id="bt2"><circle cx="343.3" cy="1631.6"/></g><g id="bt3"><circle cx="343.3" cy="1651.9"/></g><g id="bt4"><circle cx="343.3" cy="1672.1"/></g>
<g id="bu1"><circle cx="310" cy="1692.4"/></g><g id="bu2"><circle cx="310" cy="1712.7"/></g>
<g id="bv1"><circle cx="376.7" cy="1692.4"/></g><g id="bv2"><circle cx="376.7" cy="1712.7"/></g><g id="bv3"><circle cx="376.7" cy="1733"/></g><g id="bv4"><circle cx="376.7" cy="1753.2"/></g>
<g id="bw1"><circle cx="343.3" cy="1692.4"/></g><g id="bw2"><circle cx="343.3" cy="1712.7"/></g><g id="bw3"><circle cx="343.3" cy="1733"/></g><g id="bw4"><circle cx="343.3" cy="1753.2"/></g><g id="bw5"><circle cx="343.3" cy="1773.5"/></g><g id="bw6"><circle cx="343.3" cy="1793.8"/></g><g id="bw7"><circle cx="343.3" cy="1814"/></g><g id="bw8"><circle cx="343.3" cy="1834.3"/></g>
<g id="bx1"><circle cx="343.3" cy="1854.6"/></g><g id="bx2"><circle cx="343.3" cy="1874.8"/></g>
<g id="by1"><circle cx="310" cy="1854.6"/></g><g id="by2"><circle cx="310" cy="1874.8"/></g>
<g id="bz1"><circle cx="276.7" cy="1895.1"/></g><g id="bz2"><circle cx="276.7" cy="1915.4"/></g>
<g id="ca1"><circle cx="310" cy="1895.1"/></g><g id="ca2"><circle cx="310" cy="1915.4"/></g><g id="ca3"><circle cx="310" cy="1935.7"/></g><g id="ca4"><circle cx="310" cy="1955.9"/></g>
<g id="cb1"><circle cx="276.7" cy="1976.2"/></g><g id="cb2"><circle cx="276.7" cy="1996.5"/></g><g id="cb3"><circle cx="276.7" cy="2016.7"/></g><g id="cb4"><circle cx="276.7" cy="2037"/></g><g id="cb5"><circle cx="276.7" cy="2057.3"/></g><g id="cb6"><circle cx="276.7" cy="2077.5"/></g><g id="cb7"><circle cx="276.7" cy="2097.8"/></g><g id="cb8"><circle cx="276.7" cy="2118.1"/></g><g id="cb9"><circle cx="276.7" cy="2138.4"/></g><g id="cb10"><circle cx="276.7" cy="2158.6"/></g><g id="cb11"><circle cx="276.7" cy="2178.9"/></g><g id="cb12"><circle cx="276.7" cy="2199.2"/></g><g id="cb13"><circle cx="276.7" cy="2219.4"/></g><g id="cb14"><circle cx="276.7" cy="2239.7"/></g><g id="cb15"><circle cx="276.7" cy="2260"/></g><g id="cb16"><circle cx="276.7" cy="2280.2"/></g>
<g id="cc1"><circle cx="310" cy="1976.2"/></g><g id="cc2"><circle cx="310" cy="1996.5"/></g><g id="cc3"><circle cx="310" cy="2016.7"/></g><g id="cc4"><circle cx="310" cy="2037"/></g><g id="cc5"><circle cx="310" cy="2057.3"/></g><g id="cc6"><circle cx="310" cy="2077.5"/></g><g id="cc7"><circle cx="310" cy="2097.8"/></g><g id="cc8"><circle cx="310" cy="2118.1"/></g>
<g id="cd1"><circle cx="443.3" cy="1530.3"/></g><g id="cd2"><circle cx="443.3" cy="1550.5"/></g>
<g id="ce1"><circle cx="476.7" cy="1570.8"/></g><g id="ce2"><circle cx="476.7" cy="1591.1"/></g>
<g id="cf1"><circle cx="443.3" cy="1570.8"/></g><g id="cf2"><circle cx="443.3" cy="1591.1"/></g><g id="cf3"><circle cx="443.3" cy="1611.3"/></g><g id="cf4"><circle cx="443.3" cy="1631.6"/></g><g id="cf5"><circle cx="443.3" cy="1651.9"/></g><g id="cf6"><circle cx="443.3" cy="1672.1"/></g>
<g id="cg1"><circle cx="410" cy="1692.4"/></g><g id="cg2"><circle cx="410" cy="1712.7"/></g>
<g id="ch1"><circle cx="443.3" cy="1692.4"/></g><g id="ch2"><circle cx="443.3" cy="1712.7"/></g><g id="ch3"><circle cx="439.4" cy="1733"/></g><g id="ch4"><circle cx="435" cy="1753.2"/></g><g id="ch5"><circle cx="435" cy="1773.5"/></g><g id="ch6"><circle cx="435" cy="1793.8"/></g><g id="ch7"><circle cx="435" cy="1814"/></g><g id="ch8"><circle cx="419.4" cy="1834.3"/></g><g id="ch9"><circle cx="410" cy="1854.6"/></g><g id="ch10"><circle cx="410" cy="1874.8"/></g>
<g id="ci1"><circle cx="376.7" cy="1895.1"/></g><g id="ci2"><circle cx="376.7" cy="1915.4"/></g><g id="ci3"><circle cx="376.7" cy="1935.7"/></g><g id="ci4"><circle cx="376.7" cy="1955.9"/></g><g id="ci5"><circle cx="376.7" cy="1976.2"/></g><g id="ci6"><circle cx="376.7" cy="1996.5"/></g>
<g id="cj1"><circle cx="410" cy="1895.1"/></g><g id="cj2"><circle cx="410" cy="1915.4"/></g><g id="cj3"><circle cx="410" cy="1935.7"/></g><g id="cj4"><circle cx="410" cy="1955.9"/></g><g id="cj5"><circle cx="410" cy="1976.2"/></g><g id="cj6"><circle cx="410" cy="1996.5"/></g><g id="cj7"><circle cx="410" cy="2016.7"/></g><g id="cj8"><circle cx="410" cy="2037"/></g><g id="cj9"><circle cx="410" cy="2057.3"/></g><g id="cj10"><circle cx="410" cy="2077.5"/></g><g id="cj11"><circle cx="410" cy="2097.8"/></g><g id="cj12"><circle cx="410" cy="2118.1"/></g>
<g id="ck1"><circle cx="376.7" cy="2016.7"/></g><g id="ck2"><circle cx="376.7" cy="2037"/></g>
<g id="cl1"><circle cx="259.8" cy="1449.2"/></g><g id="cl2"><circle cx="243.3" cy="1469.4"/></g>
<g id="cm1"><circle cx="210" cy="1489.7"/></g><g id="cm2"><circle cx="210" cy="1510"/></g>
<g id="cn1"><circle cx="176.7" cy="1530.3"/></g><g id="cn2"><circle cx="176.7" cy="1550.5"/></g><g id="cn3"><circle cx="176.7" cy="1570.8"/></g><g id="cn4"><circle cx="176.7" cy="1591.1"/></g>
<g id="co1"><circle cx="210" cy="1530.3"/></g><g id="co2"><circle cx="210" cy="1550.5"/></g>
<g id="cp1"><circle cx="243.3" cy="1489.7"/></g><g id="cp2"><circle cx="243.3" cy="1510"/></g><g id="cp3"><circle cx="243.3" cy="1530.3"/></g><g id="cp4"><circle cx="243.3" cy="1550.5"/></g>
<g id="cq1"><circle cx="210" cy="1570.8"/></g><g id="cq2"><circle cx="210" cy="1591.1"/></g>
<g id="cr1"><circle cx="243.3" cy="1570.8"/></g><g id="cr2"><circle cx="243.3" cy="1591.1"/></g><g id="cr3"><circle cx="243.3" cy="1611.3"/></g><g id="cr4"><circle cx="243.3" cy="1631.6"/></g>
<g id="cs1"><circle cx="310" cy="1449.2"/></g><g id="cs2"><circle cx="310" cy="1469.4"/></g><g id="cs3"><circle cx="310" cy="1489.7"/></g><g id="cs4"><circle cx="310" cy="1510"/></g>
<g id="ct1"><circle cx="343.3" cy="1530.3"/></g><g id="ct2"><circle cx="343.3" cy="1550.5"/></g><g id="ct3"><circle cx="343.3" cy="1570.8"/></g><g id="ct4"><circle cx="343.3" cy="1591.1"/></g>
<g id="cu1"><circle cx="310" cy="1530.3"/></g><g id="cu2"><circle cx="310" cy="1550.5"/></g>
<g id="cv1"><circle cx="276.7" cy="1570.8"/></g><g id="cv2"><circle cx="276.7" cy="1591.1"/></g>
<g id="cw1"><circle cx="310" cy="1611.3"/></g><g id="cw2"><circle cx="310" cy="1631.6"/></g>
<g id="cx1"><circle cx="276.7" cy="1611.3"/></g><g id="cx2"><circle cx="276.7" cy="1631.6"/></g><g id="cx3"><circle cx="276.7" cy="1651.9"/></g><g id="cx4"><circle cx="276.7" cy="1672.1"/></g><g id="cx5"><circle cx="276.7" cy="1692.4"/></g><g id="cx6"><circle cx="276.7" cy="1712.7"/></g>
<g id="cy1"><circle cx="310" cy="1570.8"/></g><g id="cy2"><circle cx="310" cy="1591.1"/></g>
<g id="cz1"><circle cx="343.3" cy="1449.2"/></g><g id="cz2"><circle cx="343.3" cy="1469.4"/></g>
<g id="da1"><circle cx="376.7" cy="1489.7"/></g><g id="da2"><circle cx="376.7" cy="1510"/></g><g id="da3"><circle cx="376.7" cy="1530.3"/></g><g id="da4"><circle cx="376.7" cy="1550.5"/></g>
<g id="db1"><circle cx="343.3" cy="1489.7"/></g><g id="db2"><circle cx="343.3" cy="1510"/></g>
<g id="dc1"><circle cx="359" cy="2138.4"/></g><g id="dc2"><circle cx="343.3" cy="2158.6"/></g>
<g id="dd1"><circle cx="310" cy="2178.9"/></g><g id="dd2"><circle cx="310" cy="2199.2"/></g><g id="dd3"><circle cx="310" cy="2219.4"/></g><g id="dd4"><circle cx="310" cy="2239.7"/></g><g id="dd5"><circle cx="310" cy="2260"/></g><g id="dd6"><circle cx="310" cy="2280.2"/></g>
<g id="de1"><circle cx="343.3" cy="2178.9"/></g><g id="de2"><circle cx="343.3" cy="2199.2"/></g><g id="de3"><circle cx="343.3" cy="2219.4"/></g><g id="de4"><circle cx="343.3" cy="2239.7"/></g>
<g id="df1"><circle cx="410" cy="2138.4"/></g><g id="df2"><circle cx="410" cy="2158.6"/></g>
<g id="dg1"><circle cx="376.7" cy="2178.9"/></g><g id="dg2"><circle cx="376.7" cy="2199.2"/></g>
<g id="dh1"><circle cx="410" cy="2178.9"/></g><g id="dh2"><circle cx="410" cy="2199.2"/></g>
<g id="di1"><circle cx="376.7" cy="2219.4"/></g><g id="di2"><circle cx="376.7" cy="2239.7"/></g>
<g id="dj1"><circle cx="410" cy="2219.4"/></g><g id="dj2"><circle cx="410" cy="2239.7"/></g><g id="dj3"><circle cx="410" cy="2260"/></g><g id="dj4"><circle cx="410" cy="2280.2"/></g><g id="dj5"><circle cx="410" cy="2300.5"/></g><g id="dj6"><circle cx="410" cy="2320.8"/></g><g id="dj7"><circle cx="410" cy="2341.1"/></g><g id="dj8"><circle cx="410" cy="2361.3"/></g><g id="dj9"><circle cx="410" cy="2381.6"/></g><g id="dj10"><circle cx="410" cy="2401.9"/></g>
<g id="dk1"><circle cx="459.3" cy="2138.4"/></g><g id="dk2"><circle cx="459.3" cy="2158.6"/></g>
<g id="dl1"><circle cx="443.3" cy="2178.9"/></g><g id="dl2"><circle cx="443.3" cy="2199.2"/></g><g id="dl3"><circle cx="443.3" cy="2219.4"/></g><g id="dl4"><circle cx="443.3" cy="2239.7"/></g><g id="dl5"><circle cx="443.3" cy="2260"/></g><g id="dl6"><circle cx="443.3" cy="2280.2"/></g>
<g id="dm1"><circle cx="476.7" cy="2178.9"/></g><g id="dm2"><circle cx="476.7" cy="2199.2"/></g>
<g id="dn1"><circle cx="509.2" cy="2219.4"/></g><g id="dn2"><circle cx="509.2" cy="2239.7"/></g><g id="dn3"><circle cx="509.2" cy="2260"/></g><g id="dn4"><circle cx="509.2" cy="2280.2"/></g>
<g id="do1"><circle cx="476.7" cy="2219.4"/></g><g id="do2"><circle cx="476.7" cy="2239.7"/></g><g id="do3"><circle cx="476.7" cy="2260"/></g><g id="do4"><circle cx="476.7" cy="2280.2"/></g>
<g id="dp1"><circle cx="443.3" cy="2300.5"/></g><g id="dp2"><circle cx="443.3" cy="2320.8"/></g>
<g id="dq1"><circle cx="476.7" cy="2300.5"/></g><g id="dq2"><circle cx="476.7" cy="2320.8"/></g><g id="dq3"><circle cx="476.7" cy="2341.1"/></g><g id="dq4"><circle cx="476.7" cy="2361.3"/></g>
<g id="dr1"><circle cx="443.3" cy="2381.6"/></g><g id="dr2"><circle cx="443.3" cy="2401.9"/></g>
<g id="ds1"><circle cx="410" cy="2422.1"/></g><g id="ds2"><circle cx="410" cy="2442.4"/></g>
<g id="dt1"><circle cx="443.3" cy="2422.1"/></g><g id="dt2"><circle cx="443.3" cy="2442.4"/></g><g id="dt3"><circle cx="443.3" cy="2462.7"/></g><g id="dt4"><circle cx="443.3" cy="2482.9"/></g>
<g id="du1"><circle cx="410" cy="2503.2"/></g><g id="du2"><circle cx="410" cy="2523.5"/></g><g id="du3"><circle cx="410" cy="2543.8"/></g><g id="du4"><circle cx="410" cy="2564"/></g><g id="du5"><circle cx="410" cy="2584.3"/></g><g id="du6"><circle cx="410" cy="2604.6"/></g>
<g id="dv1"><circle cx="443.3" cy="2503.2"/></g><g id="dv2"><circle cx="443.3" cy="2523.5"/></g><g id="dv3"><circle cx="443.3" cy="2543.8"/></g><g id="dv4"><circle cx="443.3" cy="2564"/></g><g id="dv5"><circle cx="443.3" cy="2584.3"/></g><g id="dv6"><circle cx="443.3" cy="2604.6"/></g>
<g id="dw1"><circle cx="476.7" cy="2381.6"/></g><g id="dw2"><circle cx="476.7" cy="2401.9"/></g><g id="dw3"><circle cx="476.7" cy="2422.1"/></g><g id="dw4"><circle cx="476.7" cy="2442.4"/></g><g id="dw5"><circle cx="476.7" cy="2462.7"/></g><g id="dw6"><circle cx="476.7" cy="2482.9"/></g>
<g id="dx1"><circle cx="522" cy="2178.9"/></g><g id="dx2"><circle cx="538" cy="2199.2"/></g><g id="dx3"><circle cx="543.3" cy="2219.4"/></g><g id="dx4"><circle cx="543.3" cy="2239.7"/></g>
<g id="dy1"><circle cx="501.4" cy="2016.7"/></g><g id="dy2"><circle cx="526.7" cy="2037"/></g>
<g id="dz1"><circle cx="526.7" cy="2057.3"/></g><g id="dz2"><circle cx="526.7" cy="2077.5"/></g>
<g id="ea1"><circle cx="572.6" cy="2057.3"/></g><g id="ea2"><circle cx="579.5" cy="2077.5"/></g>
<g id="eb1"><circle cx="579.5" cy="2097.8"/></g><g id="eb2"><circle cx="579.5" cy="2118.1"/></g><g id="eb3"><circle cx="579.5" cy="2138.4"/></g><g id="eb4"><circle cx="579.5" cy="2158.6"/></g><g id="eb5"><circle cx="579.5" cy="2178.9"/></g><g id="eb6"><circle cx="579.5" cy="2199.2"/></g>
<g id="ec1"><circle cx="609.3" cy="2219.4"/></g><g id="ec2"><circle cx="609.3" cy="2239.7"/></g><g id="ec3"><circle cx="609.3" cy="2260"/></g><g id="ec4"><circle cx="609.3" cy="2280.2"/></g><g id="ec5"><circle cx="609.3" cy="2300.5"/></g><g id="ec6"><circle cx="609.3" cy="2320.8"/></g><g id="ec7"><circle cx="609.3" cy="2341.1"/></g><g id="ec8"><circle cx="609.3" cy="2361.3"/></g>
<g id="ed1"><circle cx="576.7" cy="2219.4"/></g><g id="ed2"><circle cx="576.7" cy="2239.7"/></g><g id="ed3"><circle cx="576.7" cy="2260"/></g><g id="ed4"><circle cx="576.7" cy="2280.2"/></g>
<g id="ee1"><circle cx="543.3" cy="2300.5"/></g><g id="ee2"><circle cx="543.3" cy="2320.8"/></g>
<g id="ef1"><circle cx="576.7" cy="2300.5"/></g><g id="ef2"><circle cx="576.7" cy="2320.8"/></g><g id="ef3"><circle cx="576.7" cy="2341.1"/></g><g id="ef4"><circle cx="576.7" cy="2361.3"/></g>
<g id="eg1"><circle cx="543.3" cy="2341.1"/></g><g id="eg2"><circle cx="543.3" cy="2361.3"/></g><g id="eg3"><circle cx="543.3" cy="2381.6"/></g><g id="eg4"><circle cx="543.3" cy="2401.9"/></g><g id="eg5"><circle cx="543.3" cy="2422.1"/></g><g id="eg6"><circle cx="543.3" cy="2442.4"/></g><g id="eg7"><circle cx="543.3" cy="2462.7"/></g><g id="eg8"><circle cx="543.3" cy="2482.9"/></g>
<g id="eh1"><circle cx="509" cy="2462.7"/></g><g id="eh2"><circle cx="509" cy="2482.9"/></g><g id="eh3"><circle cx="509" cy="2503.2"/></g><g id="eh4"><circle cx="509" cy="2523.5"/></g>
<g id="ei1"><circle cx="543.3" cy="2503.2"/></g><g id="ei2"><circle cx="543.3" cy="2523.5"/></g><g id="ei3"><circle cx="543.3" cy="2543.8"/></g><g id="ei4"><circle cx="543.3" cy="2564"/></g>
<g id="ej1"><circle cx="576.7" cy="2503.2"/></g><g id="ej2"><circle cx="576.7" cy="2523.5"/></g><g id="ej3"><circle cx="576.7" cy="2543.8"/></g><g id="ej4"><circle cx="576.7" cy="2564"/></g>
<g id="ek1"><circle cx="612.5" cy="2097.8"/></g><g id="ek2"><circle cx="612.5" cy="2118.1"/></g><g id="ek3"><circle cx="616" cy="2138.4"/></g><g id="ek4"><circle cx="620" cy="2158.6"/></g><g id="ek5"><circle cx="636" cy="2178.9"/></g><g id="ek6"><circle cx="640" cy="2199.2"/></g><g id="ek7"><circle cx="647" cy="2219.4"/></g><g id="ek8"><circle cx="647" cy="2239.7"/></g>
<g id="el1"><circle cx="696.6" cy="2260"/></g><g id="el2"><circle cx="704.4" cy="2280.2"/></g><g id="el3"><circle cx="710.3" cy="2300.5"/></g><g id="el4"><circle cx="710.3" cy="2320.8"/></g>
<g id="em1"><circle cx="647" cy="2260"/></g><g id="em2"><circle cx="647" cy="2280.2"/></g>
<g id="en1"><circle cx="676" cy="2300.5"/></g><g id="en2"><circle cx="676" cy="2320.8"/></g><g id="en3"><circle cx="676" cy="2341.1"/></g><g id="en4"><circle cx="676" cy="2361.3"/></g>
<g id="eo1"><circle cx="643.8" cy="2300.5"/></g><g id="eo2"><circle cx="643.8" cy="2320.8"/></g><g id="eo3"><circle cx="643.8" cy="2341.1"/></g><g id="eo4"><circle cx="643.8" cy="2361.3"/></g><g id="eo5"><circle cx="643.8" cy="2381.6"/></g><g id="eo6"><circle cx="643.8" cy="2401.9"/></g><g id="eo7"><circle cx="643.8" cy="2422.1"/></g><g id="eo8"><circle cx="650.6" cy="2442.4"/></g><g id="eo9"><circle cx="655" cy="2462.7"/></g><g id="eo10"><circle cx="658" cy="2482.9"/></g><g id="eo11"><circle cx="660" cy="2503.2"/></g><g id="eo12"><circle cx="675" cy="2523.5"/></g><g id="eo13"><circle cx="678" cy="2543.8"/></g><g id="eo14"><circle cx="681" cy="2564"/></g>
<g id="ep1"><circle cx="243.3" cy="2300.5"/></g><g id="ep2"><circle cx="243.3" cy="2320.8"/></g>
<g id="eq1"><circle cx="276.7" cy="2300.5"/></g><g id="eq2"><circle cx="276.7" cy="2320.8"/></g><g id="eq3"><circle cx="276.7" cy="2341.1"/></g><g id="eq4"><circle cx="276.7" cy="2361.3"/></g>
<g id="er1"><circle cx="243.3" cy="2341.1"/></g><g id="er2"><circle cx="243.3" cy="2361.3"/></g>
<g id="es1"><circle cx="276.7" cy="2381.6"/></g><g id="es2"><circle cx="276.7" cy="2401.9"/></g>
<g id="et1"><circle cx="243.3" cy="2381.6"/></g><g id="et2"><circle cx="243.3" cy="2401.9"/></g><g id="et3"><circle cx="243.3" cy="2422.1"/></g><g id="et4"><circle cx="243.3" cy="2442.4"/></g>
<g id="eu1"><circle cx="276.7" cy="2422.1"/></g><g id="eu2"><circle cx="276.7" cy="2442.4"/></g><g id="eu3"><circle cx="276.7" cy="2462.7"/></g><g id="eu4"><circle cx="276.7" cy="2482.9"/></g>
<g id="ev1"><circle cx="193.8" cy="2381.6"/></g><g id="ev2"><circle cx="193.8" cy="2401.9"/></g>
<g id="ew1"><circle cx="176.4" cy="2422.1"/></g><g id="ew2"><circle cx="176.4" cy="2442.4"/></g><g id="ew3"><circle cx="176.4" cy="2462.7"/></g><g id="ew4"><circle cx="176.4" cy="2482.9"/></g>
<g id="ex1"><circle cx="209.9" cy="2422.1"/></g><g id="ex2"><circle cx="209.9" cy="2442.4"/></g><g id="ex3"><circle cx="209.9" cy="2462.7"/></g><g id="ex4"><circle cx="209.9" cy="2482.9"/></g><g id="ex5"><circle cx="209.9" cy="2503.2"/></g><g id="ex6"><circle cx="209.9" cy="2523.5"/></g><g id="ex7"><circle cx="209.9" cy="2543.8"/></g><g id="ex8"><circle cx="209.9" cy="2564"/></g>
<g id="ey1"><circle cx="143.3" cy="2422.1"/></g><g id="ey2"><circle cx="143.3" cy="2442.4"/></g><g id="ey3"><circle cx="143.3" cy="2462.7"/></g><g id="ey4"><circle cx="143.3" cy="2482.9"/></g>
<g id="ez1"><circle cx="109.8" cy="2462.7"/></g><g id="ez2"><circle cx="109.8" cy="2482.9"/></g>
<g id="fa1"><circle cx="326" cy="2300.5"/></g><g id="fa2"><circle cx="326" cy="2320.8"/></g><g id="fa3"><circle cx="326" cy="2341.1"/></g><g id="fa4"><circle cx="326" cy="2361.3"/></g>
<g id="fb1"><circle cx="363.7" cy="2341.1"/></g><g id="fb2"><circle cx="372.9" cy="2361.3"/></g><g id="fb3"><circle cx="376.7" cy="2381.6"/></g><g id="fb4"><circle cx="376.7" cy="2401.9"/></g><g id="fb5"><circle cx="376.7" cy="2422.1"/></g><g id="fb6"><circle cx="376.7" cy="2442.4"/></g><g id="fb7"><circle cx="376.7" cy="2462.7"/></g><g id="fb8"><circle cx="376.7" cy="2482.9"/></g><g id="fb9"><circle cx="376.7" cy="2503.2"/></g><g id="fb10"><circle cx="376.7" cy="2523.5"/></g><g id="fb11"><circle cx="376.7" cy="2543.8"/></g><g id="fb12"><circle cx="376.7" cy="2564"/></g><g id="fb13"><circle cx="376.7" cy="2584.3"/></g><g id="fb14"><circle cx="376.7" cy="2604.6"/></g>
<g id="fc1"><circle cx="343.3" cy="2422.1"/></g><g id="fc2"><circle cx="343.3" cy="2442.4"/></g><g id="fc3"><circle cx="343.3" cy="2462.7"/></g><g id="fc4"><circle cx="343.3" cy="2482.9"/></g><g id="fc5"><circle cx="343.3" cy="2503.2"/></g><g id="fc6"><circle cx="343.3" cy="2523.5"/></g>
<g id="fd1"><circle cx="343.3" cy="2381.6"/></g><g id="fd2"><circle cx="343.3" cy="2401.9"/></g>
<g id="fe1"><circle cx="310" cy="2381.6"/></g><g id="fe2"><circle cx="310" cy="2401.9"/></g><g id="fe3"><circle cx="310" cy="2422.1"/></g><g id="fe4"><circle cx="310" cy="2442.4"/></g><g id="fe5"><circle cx="310" cy="2462.7"/></g><g id="fe6"><circle cx="310" cy="2482.9"/></g><g id="fe7"><circle cx="310" cy="2503.2"/></g><g id="fe8"><circle cx="310" cy="2523.5"/></g>
<g id="ff1"><circle cx="76.7" cy="2503.2"/></g><g id="ff2"><circle cx="76.7" cy="2523.5"/></g>
<g id="fg1"><circle cx="109.8" cy="2503.2"/></g><g id="fg2"><circle cx="109.8" cy="2523.5"/></g>
<g id="fh1"><circle cx="143.3" cy="2503.2"/></g><g id="fh2"><circle cx="143.3" cy="2523.5"/></g><g id="fh3"><circle cx="143.3" cy="2543.8"/></g><g id="fh4"><circle cx="143.3" cy="2564"/></g><g id="fh5"><circle cx="143.3" cy="2584.3"/></g><g id="fh6"><circle cx="143.3" cy="2604.6"/></g><g id="fh7"><circle cx="143.3" cy="2624.8"/></g><g id="fh8"><circle cx="143.3" cy="2645.1"/></g><g id="fh9"><circle cx="143.3" cy="2665.4"/></g><g id="fh10"><circle cx="143.3" cy="2685.6"/></g><g id="fh11"><circle cx="143.3" cy="2705.9"/></g><g id="fh12"><circle cx="143.3" cy="2726.2"/></g>
<g id="fi1"><circle cx="110" cy="2543.8"/></g><g id="fi2"><circle cx="110" cy="2564"/></g><g id="fi3"><circle cx="110" cy="2584.3"/></g><g id="fi4"><circle cx="110" cy="2604.6"/></g><g id="fi5"><circle cx="98" cy="2624.8"/></g><g id="fi6"><circle cx="84.3" cy="2645.1"/></g><g id="fi7"><circle cx="67.8" cy="2665.4"/></g><g id="fi8"><circle cx="60.2" cy="2685.6"/></g>
<g id="fj1"><circle cx="27.6" cy="2705.9"/></g><g id="fj2"><circle cx="27.6" cy="2726.2"/></g><g id="fj3"><circle cx="27.6" cy="2746.5"/></g><g id="fj4"><circle cx="27.6" cy="2766.7"/></g>
<g id="fk1"><circle cx="60.2" cy="2705.9"/></g><g id="fk2"><circle cx="60.2" cy="2726.2"/></g><g id="fk3"><circle cx="60.2" cy="2746.5"/></g><g id="fk4"><circle cx="60.2" cy="2766.7"/></g><g id="fk5"><circle cx="43.7" cy="2787"/></g><g id="fk6"><circle cx="43.7" cy="2807.3"/></g><g id="fk7"><circle cx="43.7" cy="2827.5"/></g><g id="fk8"><circle cx="43.7" cy="2847.8"/></g><g id="fk9"><circle cx="43.7" cy="2868.1"/></g><g id="fk10"><circle cx="43.7" cy="2888.3"/></g><g id="fk11"><circle cx="43.7" cy="2908.6"/></g><g id="fk12"><circle cx="43.7" cy="2928.9"/></g><g id="fk13"><circle cx="43.7" cy="2949.2"/></g><g id="fk14"><circle cx="43.7" cy="2969.4"/></g><g id="fk15"><circle cx="43.7" cy="2989.7"/></g><g id="fk16"><circle cx="43.7" cy="3010"/></g>
<g id="fl1"><circle cx="10" cy="2868.1"/></g><g id="fl2"><circle cx="10" cy="2888.3"/></g><g id="fl3"><circle cx="10" cy="2908.6"/></g><g id="fl4"><circle cx="10" cy="2928.9"/></g>
<g id="fm1"><circle cx="10" cy="3030.2"/></g><g id="fm2"><circle cx="10" cy="3050.5"/></g><g id="fm3"><circle cx="10" cy="3070.8"/></g><g id="fm4"><circle cx="10" cy="3091"/></g>
<g id="fn1"><circle cx="43.7" cy="3030.2"/></g><g id="fn2"><circle cx="43.7" cy="3050.5"/></g><g id="fn3"><circle cx="43.7" cy="3070.8"/></g><g id="fn4"><circle cx="43.7" cy="3091"/></g><g id="fn5"><circle cx="43.7" cy="3111.3"/></g><g id="fn6"><circle cx="43.7" cy="3131.6"/></g>
<g id="fo1"><circle cx="176.7" cy="2624.8"/></g><g id="fo2"><circle cx="176.7" cy="2645.1"/></g><g id="fo3"><circle cx="176.7" cy="2665.4"/></g><g id="fo4"><circle cx="176.7" cy="2685.6"/></g><g id="fo5"><circle cx="176.7" cy="2705.9"/></g><g id="fo6"><circle cx="176.7" cy="2726.2"/></g><g id="fo7"><circle cx="176.7" cy="2746.5"/></g><g id="fo8"><circle cx="176.7" cy="2766.7"/></g><g id="fo9"><circle cx="176.7" cy="2787"/></g><g id="fo10"><circle cx="176.7" cy="2807.3"/></g><g id="fo11"><circle cx="176.7" cy="2827.5"/></g><g id="fo12"><circle cx="176.7" cy="2847.8"/></g><g id="fo13"><circle cx="176.7" cy="2868.1"/></g><g id="fo14"><circle cx="176.7" cy="2888.3"/></g>
<g id="fp1"><circle cx="210" cy="2665.4"/></g><g id="fp2"><circle cx="210" cy="2685.6"/></g><g id="fp3"><circle cx="210" cy="2705.9"/></g><g id="fp4"><circle cx="210" cy="2726.2"/></g><g id="fp5"><circle cx="210" cy="2746.5"/></g><g id="fp6"><circle cx="210" cy="2766.7"/></g><g id="fp7"><circle cx="210" cy="2787"/></g><g id="fp8"><circle cx="210" cy="2807.3"/></g>
<g id="fq1"><circle cx="243.3" cy="2746.5"/></g><g id="fq2"><circle cx="243.3" cy="2766.7"/></g>
<g id="fr1"><circle cx="110" cy="2705.9"/></g><g id="fr2"><circle cx="110" cy="2726.2"/></g>
<g id="fs1"><circle cx="143.3" cy="2746.5"/></g><g id="fs2"><circle cx="143.3" cy="2766.7"/></g><g id="fs3"><circle cx="143.3" cy="2787"/></g><g id="fs4"><circle cx="143.3" cy="2807.3"/></g><g id="fs5"><circle cx="143.3" cy="2827.5"/></g><g id="fs6"><circle cx="143.3" cy="2847.8"/></g>
<g id="ft1"><circle cx="110" cy="2746.5"/></g><g id="ft2"><circle cx="110" cy="2766.7"/></g>
<g id="fu1"><circle cx="110" cy="2787"/></g><g id="fu2"><circle cx="110" cy="2807.3"/></g><g id="fu3"><circle cx="110" cy="2827.5"/></g><g id="fu4"><circle cx="110" cy="2847.8"/></g>
<g id="fv1"><circle cx="76.7" cy="2787"/></g><g id="fv2"><circle cx="76.7" cy="2807.3"/></g><g id="fv3"><circle cx="76.7" cy="2827.5"/></g><g id="fv4"><circle cx="76.7" cy="2847.8"/></g><g id="fv5"><circle cx="76.7" cy="2868.1"/></g><g id="fv6"><circle cx="76.7" cy="2888.3"/></g><g id="fv7"><circle cx="76.7" cy="2908.6"/></g><g id="fv8"><circle cx="76.7" cy="2928.9"/></g><g id="fv9"><circle cx="76.7" cy="2949.2"/></g><g id="fv10"><circle cx="76.7" cy="2969.4"/></g><g id="fv11"><circle cx="76.7" cy="2989.7"/></g><g id="fv12"><circle cx="76.7" cy="3010"/></g><g id="fv13"><circle cx="76.7" cy="3030.2"/></g><g id="fv14"><circle cx="76.7" cy="3050.5"/></g>
<g id="fw1"><circle cx="110" cy="2908.6"/></g><g id="fw2"><circle cx="110" cy="2928.9"/></g>
<g id="fx1"><circle cx="343.3" cy="2543.8"/></g><g id="fx2"><circle cx="343.3" cy="2564"/></g><g id="fx3"><circle cx="343.3" cy="2584.3"/></g><g id="fx4"><circle cx="343.3" cy="2604.6"/></g><g id="fx5"><circle cx="343.3" cy="2624.8"/></g><g id="fx6"><circle cx="343.3" cy="2645.1"/></g><g id="fx7"><circle cx="343.3" cy="2665.4"/></g><g id="fx8"><circle cx="343.3" cy="2685.6"/></g><g id="fx9"><circle cx="343.3" cy="2705.9"/></g><g id="fx10"><circle cx="343.3" cy="2726.2"/></g><g id="fx11"><circle cx="343.3" cy="2746.5"/></g><g id="fx12"><circle cx="343.3" cy="2766.7"/></g><g id="fx13"><circle cx="343.3" cy="2787"/></g><g id="fx14"><circle cx="343.3" cy="2807.3"/></g>
<g id="fy1"><circle cx="310" cy="2746.5"/></g><g id="fy2"><circle cx="310" cy="2766.7"/></g><g id="fy3"><circle cx="310" cy="2787"/></g><g id="fy4"><circle cx="310" cy="2807.3"/></g><g id="fy5"><circle cx="310" cy="2827.5"/></g><g id="fy6"><circle cx="310" cy="2847.8"/></g>
<g id="fz1"><circle cx="276.7" cy="2787"/></g><g id="fz2"><circle cx="276.7" cy="2807.3"/></g><g id="fz3"><circle cx="276.7" cy="2827.5"/></g><g id="fz4"><circle cx="276.7" cy="2847.8"/></g><g id="fz5"><circle cx="276.7" cy="2868.1"/></g><g id="fz6"><circle cx="276.7" cy="2888.3"/></g><g id="fz7"><circle cx="276.7" cy="2908.6"/></g><g id="fz8"><circle cx="276.7" cy="2928.9"/></g><g id="fz9"><circle cx="276.7" cy="2949.2"/></g><g id="fz10"><circle cx="276.7" cy="2969.4"/></g><g id="fz11"><circle cx="276.7" cy="2989.7"/></g><g id="fz12"><circle cx="276.7" cy="3010"/></g><g id="fz13"><circle cx="276.7" cy="3030.2"/></g><g id="fz14"><circle cx="276.7" cy="3050.5"/></g>
<g id="ga1"><circle cx="343.3" cy="2827.5"/></g><g id="ga2"><circle cx="343.3" cy="2847.8"/></g><g id="ga3"><circle cx="343.3" cy="2868.1"/></g><g id="ga4"><circle cx="343.3" cy="2888.3"/></g>
<g id="gb1"><circle cx="243.3" cy="2827.5"/></g><g id="gb2"><circle cx="243.3" cy="2847.8"/></g><g id="gb3"><circle cx="243.3" cy="2868.1"/></g><g id="gb4"><circle cx="243.3" cy="2888.3"/></g><g id="gb5"><circle cx="243.3" cy="2908.6"/></g><g id="gb6"><circle cx="243.3" cy="2928.9"/></g><g id="gb7"><circle cx="243.3" cy="2949.2"/></g><g id="gb8"><circle cx="243.3" cy="2969.4"/></g>
<g id="gc1"><circle cx="210" cy="2868.1"/></g><g id="gc2"><circle cx="210" cy="2888.3"/></g><g id="gc3"><circle cx="210" cy="2908.6"/></g><g id="gc4"><circle cx="210" cy="2928.9"/></g>
<g id="gd1"><circle cx="200.8" cy="2949.2"/></g><g id="gd2"><circle cx="193.3" cy="2969.4"/></g>
<g id="ge1"><circle cx="143.3" cy="2989.7"/></g><g id="ge2"><circle cx="143.3" cy="3010"/></g><g id="ge3"><circle cx="143.3" cy="3030.2"/></g><g id="ge4"><circle cx="143.3" cy="3050.5"/></g>
<g id="gf1"><circle cx="176.7" cy="2989.7"/></g><g id="gf2"><circle cx="176.7" cy="3010"/></g><g id="gf3"><circle cx="176.7" cy="3030.2"/></g><g id="gf4"><circle cx="176.7" cy="3050.5"/></g><g id="gf5"><circle cx="174" cy="3070.8"/></g><g id="gf6"><circle cx="166" cy="3091"/></g><g id="gf7"><circle cx="163.5" cy="3111.3"/></g><g id="gf8"><circle cx="159.6" cy="3131.6"/></g><g id="gf9"><circle cx="143.5" cy="3151.9"/></g><g id="gf10"><circle cx="143.5" cy="3172.1"/></g><g id="gf11"><circle cx="143.5" cy="3192.4"/></g><g id="gf12"><circle cx="143.5" cy="3212.7"/></g><g id="gf13"><circle cx="143.5" cy="3232.9"/></g><g id="gf14"><circle cx="143.5" cy="3253.2"/></g><g id="gf15"><circle cx="143.5" cy="3273.5"/></g><g id="gf16"><circle cx="143.5" cy="3293.7"/></g>
<g id="gg1"><circle cx="210" cy="2989.7"/></g><g id="gg2"><circle cx="210" cy="3010"/></g><g id="gg3"><circle cx="210" cy="3030.2"/></g><g id="gg4"><circle cx="210" cy="3050.5"/></g><g id="gg5"><circle cx="210" cy="3070.8"/></g><g id="gg6"><circle cx="210" cy="3091"/></g><g id="gg7"><circle cx="210" cy="3111.3"/></g><g id="gg8"><circle cx="210" cy="3131.6"/></g><g id="gg9"><circle cx="210" cy="3151.9"/></g><g id="gg10"><circle cx="210" cy="3172.1"/></g><g id="gg11"><circle cx="210" cy="3192.4"/></g><g id="gg12"><circle cx="210" cy="3212.7"/></g><g id="gg13"><circle cx="210" cy="3232.9"/></g><g id="gg14"><circle cx="210" cy="3253.2"/></g>
<g id="gh1"><circle cx="310" cy="2989.7"/></g><g id="gh2"><circle cx="310" cy="3010"/></g><g id="gh3"><circle cx="310" cy="3030.2"/></g><g id="gh4"><circle cx="310" cy="3050.5"/></g><g id="gh5"><circle cx="310" cy="3070.8"/></g><g id="gh6"><circle cx="310" cy="3091"/></g><g id="gh7"><circle cx="310" cy="3111.3"/></g><g id="gh8"><circle cx="310" cy="3131.6"/></g>
<g id="gi1"><circle cx="243.3" cy="3030.2"/></g><g id="gi2"><circle cx="243.3" cy="3050.5"/></g>
<g id="gj1"><circle cx="343.3" cy="3070.8"/></g><g id="gj2"><circle cx="343.3" cy="3091"/></g><g id="gj3"><circle cx="343.3" cy="3111.3"/></g><g id="gj4"><circle cx="343.3" cy="3131.6"/></g><g id="gj5"><circle cx="343.3" cy="3151.9"/></g><g id="gj6"><circle cx="343.3" cy="3172.1"/></g><g id="gj7"><circle cx="343.3" cy="3192.4"/></g><g id="gj8"><circle cx="343.3" cy="3212.7"/></g>
<g id="gk1"><circle cx="310" cy="3232.9"/></g><g id="gk2"><circle cx="310" cy="3253.2"/></g><g id="gk3"><circle cx="310" cy="3273.5"/></g><g id="gk4"><circle cx="310" cy="3293.7"/></g>
<g id="gl1"><circle cx="343.3" cy="3232.9"/></g><g id="gl2"><circle cx="343.3" cy="3253.2"/></g>
<g id="gm1"><circle cx="376.7" cy="3232.9"/></g><g id="gm2"><circle cx="376.7" cy="3253.2"/></g><g id="gm3"><circle cx="376.7" cy="3273.5"/></g><g id="gm4"><circle cx="376.7" cy="3293.7"/></g><g id="gm5"><circle cx="376.7" cy="3314"/></g><g id="gm6"><circle cx="376.7" cy="3334.3"/></g><g id="gm7"><circle cx="376.7" cy="3354.6"/></g><g id="gm8"><circle cx="376.7" cy="3374.8"/></g><g id="gm9"><circle cx="376.7" cy="3395.1"/></g><g id="gm10"><circle cx="376.7" cy="3415.4"/></g>
<g id="gn1"><circle cx="343.3" cy="3273.5"/></g><g id="gn2"><circle cx="343.3" cy="3293.7"/></g><g id="gn3"><circle cx="343.3" cy="3314"/></g><g id="gn4"><circle cx="343.3" cy="3334.3"/></g>
<g id="go1"><circle cx="243.3" cy="3111.3"/></g><g id="go2"><circle cx="243.3" cy="3131.6"/></g><g id="go3"><circle cx="243.3" cy="3151.9"/></g><g id="go4"><circle cx="243.3" cy="3172.1"/></g><g id="go5"><circle cx="243.3" cy="3192.4"/></g><g id="go6"><circle cx="243.3" cy="3212.7"/></g><g id="go7"><circle cx="243.3" cy="3232.9"/></g><g id="go8"><circle cx="243.3" cy="3253.2"/></g><g id="go9"><circle cx="243.3" cy="3273.5"/></g><g id="go10"><circle cx="243.3" cy="3293.7"/></g><g id="go11"><circle cx="243.3" cy="3314"/></g><g id="go12"><circle cx="243.3" cy="3334.3"/></g><g id="go13"><circle cx="243.3" cy="3354.6"/></g><g id="go14"><circle cx="243.3" cy="3374.8"/></g>
<g id="gp1"><circle cx="276.7" cy="3232.9"/></g><g id="gp2"><circle cx="276.7" cy="3253.2"/></g>
<g id="gq1"><circle cx="176.7" cy="3151.9"/></g><g id="gq2"><circle cx="176.7" cy="3172.1"/></g>
<g id="gr1"><circle cx="176.7" cy="3192.4"/></g><g id="gr2"><circle cx="176.7" cy="3212.7"/></g>
<g id="gs1"><circle cx="376.7" cy="2624.8"/></g><g id="gs2"><circle cx="376.7" cy="2645.1"/></g>
<g id="gt1"><circle cx="410" cy="2624.8"/></g><g id="gt2"><circle cx="410" cy="2645.1"/></g><g id="gt3"><circle cx="410" cy="2665.4"/></g><g id="gt4"><circle cx="410" cy="2685.6"/></g>
<g id="gu1"><circle cx="443.3" cy="2624.8"/></g><g id="gu2"><circle cx="443.3" cy="2645.1"/></g>
<g id="gv1"><circle cx="476.7" cy="2624.8"/></g><g id="gv2"><circle cx="476.7" cy="2645.1"/></g><g id="gv3"><circle cx="476.7" cy="2665.4"/></g><g id="gv4"><circle cx="476.7" cy="2685.6"/></g><g id="gv5"><circle cx="476.7" cy="2705.9"/></g><g id="gv6"><circle cx="476.7" cy="2726.2"/></g><g id="gv7"><circle cx="476.7" cy="2746.5"/></g><g id="gv8"><circle cx="476.7" cy="2766.7"/></g><g id="gv9"><circle cx="476.7" cy="2787"/></g><g id="gv10"><circle cx="476.7" cy="2807.3"/></g><g id="gv11"><circle cx="476.7" cy="2827.5"/></g><g id="gv12"><circle cx="476.7" cy="2847.8"/></g><g id="gv13"><circle cx="476.7" cy="2868.1"/></g><g id="gv14"><circle cx="476.7" cy="2888.3"/></g>
<g id="gw1"><circle cx="443.3" cy="2665.4"/></g><g id="gw2"><circle cx="443.3" cy="2685.6"/></g><g id="gw3"><circle cx="443.3" cy="2705.9"/></g><g id="gw4"><circle cx="443.3" cy="2726.2"/></g><g id="gw5"><circle cx="443.3" cy="2746.5"/></g><g id="gw6"><circle cx="443.3" cy="2766.7"/></g><g id="gw7"><circle cx="443.3" cy="2787"/></g><g id="gw8"><circle cx="443.3" cy="2807.3"/></g><g id="gw9"><circle cx="443.3" cy="2827.5"/></g><g id="gw10"><circle cx="443.3" cy="2847.8"/></g><g id="gw11"><circle cx="443.3" cy="2868.1"/></g><g id="gw12"><circle cx="443.3" cy="2888.3"/></g><g id="gw13"><circle cx="443.3" cy="2908.6"/></g><g id="gw14"><circle cx="443.3" cy="2928.9"/></g><g id="gw15"><circle cx="443.3" cy="2949.2"/></g><g id="gw16"><circle cx="443.3" cy="2969.4"/></g><g id="gw17"><circle cx="443.3" cy="2989.7"/></g><g id="gw18"><circle cx="443.3" cy="3010"/></g><g id="gw19"><circle cx="443.3" cy="3030.2"/></g><g id="gw20"><circle cx="443.3" cy="3050.5"/></g><g id="gw21"><circle cx="443.3" cy="3070.8"/></g><g id="gw22"><circle cx="443.3" cy="3091"/></g><g id="gw23"><circle cx="443.3" cy="3111.3"/></g><g id="gw24"><circle cx="443.3" cy="3131.6"/></g><g id="gw25"><circle cx="443.3" cy="3151.9"/></g><g id="gw26"><circle cx="443.3" cy="3172.1"/></g><g id="gw27"><circle cx="443.3" cy="3192.4"/></g><g id="gw28"><circle cx="443.3" cy="3212.7"/></g>
<g id="gx1"><circle cx="410" cy="2787"/></g><g id="gx2"><circle cx="410" cy="2807.3"/></g><g id="gx3"><circle cx="410" cy="2827.5"/></g><g id="gx4"><circle cx="410" cy="2847.8"/></g>
<g id="gy1"><circle cx="510" cy="2827.5"/></g><g id="gy2"><circle cx="510" cy="2847.8"/></g><g id="gy3"><circle cx="510" cy="2868.1"/></g><g id="gy4"><circle cx="510" cy="2888.3"/></g><g id="gy5"><circle cx="506" cy="2908.6"/></g><g id="gy6"><circle cx="506" cy="2928.9"/></g>
<g id="gz1"><circle cx="476.7" cy="3030.2"/></g><g id="gz2"><circle cx="476.7" cy="3050.5"/></g><g id="gz3"><circle cx="476.7" cy="3070.8"/></g><g id="gz4"><circle cx="476.7" cy="3091"/></g><g id="gz5"><circle cx="476.7" cy="3111.3"/></g><g id="gz6"><circle cx="476.7" cy="3131.6"/></g><g id="gz7"><circle cx="476.7" cy="3151.9"/></g><g id="gz8"><circle cx="476.7" cy="3172.1"/></g><g id="gz9"><circle cx="476.7" cy="3192.4"/></g><g id="gz10"><circle cx="476.7" cy="3212.7"/></g><g id="gz11"><circle cx="476.7" cy="3232.9"/></g><g id="gz12"><circle cx="476.7" cy="3253.2"/></g><g id="gz13"><circle cx="476.7" cy="3273.5"/></g><g id="gz14"><circle cx="476.7" cy="3293.7"/></g><g id="gz15"><circle cx="476.7" cy="3314"/></g><g id="gz16"><circle cx="476.7" cy="3334.3"/></g>
<g id="ha1"><circle cx="410" cy="3070.8"/></g><g id="ha2"><circle cx="410" cy="3091"/></g>
<g id="hb1"><circle cx="410" cy="3151.9"/></g><g id="hb2"><circle cx="410" cy="3172.1"/></g><g id="hb3"><circle cx="410" cy="3192.4"/></g><g id="hb4"><circle cx="410" cy="3212.7"/></g><g id="hb5"><circle cx="410" cy="3232.9"/></g><g id="hb6"><circle cx="410" cy="3253.2"/></g><g id="hb7"><circle cx="410" cy="3273.5"/></g><g id="hb8"><circle cx="410" cy="3293.7"/></g><g id="hb9"><circle cx="410" cy="3314"/></g><g id="hb10"><circle cx="410" cy="3334.3"/></g><g id="hb11"><circle cx="410" cy="3354.6"/></g><g id="hb12"><circle cx="410" cy="3374.8"/></g><g id="hb13"><circle cx="410" cy="3395.1"/></g><g id="hb14"><circle cx="410" cy="3415.4"/></g><g id="hb15"><circle cx="410" cy="3435.6"/></g><g id="hb16"><circle cx="410" cy="3455.9"/></g>
<g id="hc1"><circle cx="443.3" cy="3273.5"/></g><g id="hc2"><circle cx="443.3" cy="3293.7"/></g>
<g id="hd1"><circle cx="376.7" cy="3476.2"/></g><g id="hd2"><circle cx="376.7" cy="3496.4"/></g>
<g id="he1"><circle cx="410" cy="3476.2"/></g><g id="he2"><circle cx="410" cy="3496.4"/></g><g id="he3"><circle cx="410" cy="3516.7"/></g><g id="he4"><circle cx="410" cy="3537"/></g>
<g id="hf1"><circle cx="443.3" cy="3476.2"/></g><g id="hf2"><circle cx="443.3" cy="3496.4"/></g><g id="hf3"><circle cx="443.3" cy="3516.7"/></g><g id="hf4"><circle cx="443.3" cy="3537"/></g>
<g id="hg1"><circle cx="426" cy="3557.3"/></g><g id="hg2"><circle cx="426" cy="3577.5"/></g><g id="hg3"><circle cx="426" cy="3597.8"/></g><g id="hg4"><circle cx="426" cy="3618.1"/></g><g id="hg5"><circle cx="426" cy="3638.3"/></g><g id="hg6"><circle cx="426" cy="3658.6"/></g><g id="hg7"><circle cx="426" cy="3678.9"/></g><g id="hg8"><circle cx="426" cy="3699.1"/></g><g id="hg9"><circle cx="426" cy="3719.4"/></g><g id="hg10"><circle cx="426" cy="3739.7"/></g><g id="hg11"><circle cx="426" cy="3760"/></g><g id="hg12"><circle cx="426" cy="3780.2"/></g>
<g id="hh1"><circle cx="392.7" cy="3597.8"/></g><g id="hh2"><circle cx="392.7" cy="3618.1"/></g><g id="hh3"><circle cx="392.7" cy="3638.3"/></g><g id="hh4"><circle cx="392.7" cy="3658.6"/></g><g id="hh5"><circle cx="392.7" cy="3678.9"/></g><g id="hh6"><circle cx="392.7" cy="3699.1"/></g><g id="hh7"><circle cx="392.7" cy="3719.4"/></g><g id="hh8"><circle cx="392.7" cy="3739.7"/></g><g id="hh9"><circle cx="392.7" cy="3760"/></g><g id="hh10"><circle cx="392.7" cy="3780.2"/></g><g id="hh11"><circle cx="392.7" cy="3800.5"/></g><g id="hh12"><circle cx="392.7" cy="3820.8"/></g>
<g id="hi1"><circle cx="359.3" cy="3678.9"/></g><g id="hi2"><circle cx="359.3" cy="3699.1"/></g><g id="hi3"><circle cx="359.3" cy="3719.4"/></g><g id="hi4"><circle cx="359.3" cy="3739.7"/></g><g id="hi5"><circle cx="359.3" cy="3760"/></g><g id="hi6"><circle cx="359.3" cy="3780.2"/></g><g id="hi7"><circle cx="359.3" cy="3800.5"/></g><g id="hi8"><circle cx="359.3" cy="3820.8"/></g>
<g id="hj1"><circle cx="326" cy="3719.4"/></g><g id="hj2"><circle cx="326" cy="3739.7"/></g>
<g id="hk1"><circle cx="326" cy="3760"/></g><g id="hk2"><circle cx="326" cy="3780.2"/></g><g id="hk3"><circle cx="326" cy="3800.5"/></g><g id="hk4"><circle cx="326" cy="3820.8"/></g>
<g id="hl1"><circle cx="342.3" cy="3841"/></g><g id="hl2"><circle cx="342.3" cy="3861.3"/></g><g id="hl3"><circle cx="342.3" cy="3881.6"/></g><g id="hl4"><circle cx="342.3" cy="3901.8"/></g><g id="hl5"><circle cx="342.3" cy="3922.1"/></g><g id="hl6"><circle cx="342.3" cy="3942.4"/></g><g id="hl7"><circle cx="342.3" cy="3962.7"/></g><g id="hl8"><circle cx="342.3" cy="3982.9"/></g><g id="hl9"><circle cx="342.3" cy="4003.2"/></g><g id="hl10"><circle cx="342.3" cy="4023.5"/></g><g id="hl11"><circle cx="342.3" cy="4043.7"/></g><g id="hl12"><circle cx="342.3" cy="4064"/></g>
<g id="hm1"><circle cx="375.3" cy="3841"/></g><g id="hm2"><circle cx="375.3" cy="3861.3"/></g>
<g id="hn1"><circle cx="426" cy="3800.5"/></g><g id="hn2"><circle cx="426" cy="3820.8"/></g>
<g id="ho1"><circle cx="408.7" cy="3841"/></g><g id="ho2"><circle cx="408.7" cy="3861.3"/></g><g id="ho3"><circle cx="408.7" cy="3881.6"/></g><g id="ho4"><circle cx="408.7" cy="3901.8"/></g>
<g id="hp1"><circle cx="442.7" cy="3841"/></g><g id="hp2"><circle cx="442.7" cy="3861.3"/></g>
<g id="hq1"><circle cx="459.3" cy="3557.3"/></g><g id="hq2"><circle cx="459.3" cy="3577.5"/></g><g id="hq3"><circle cx="459.3" cy="3597.8"/></g><g id="hq4"><circle cx="459.3" cy="3618.1"/></g>
<g id="hr1"><circle cx="492.7" cy="3597.8"/></g><g id="hr2"><circle cx="492.7" cy="3618.1"/></g><g id="hr3"><circle cx="492.7" cy="3638.3"/></g><g id="hr4"><circle cx="492.7" cy="3658.6"/></g>
<g id="hs1"><circle cx="527" cy="2584.3"/></g><g id="hs2"><circle cx="527" cy="2604.6"/></g>
<g id="ht1"><circle cx="560.7" cy="2584.3"/></g><g id="ht2"><circle cx="560.7" cy="2604.6"/></g>
<g id="hu1"><circle cx="527" cy="2624.8"/></g><g id="hu2"><circle cx="527" cy="2645.1"/></g>
<g id="hv1"><circle cx="560.7" cy="2624.8"/></g><g id="hv2"><circle cx="560.7" cy="2645.1"/></g>
<g id="hw1"><circle cx="510" cy="2665.4"/></g><g id="hw2"><circle cx="510" cy="2685.6"/></g><g id="hw3"><circle cx="510" cy="2705.9"/></g><g id="hw4"><circle cx="510" cy="2726.2"/></g>
<g id="hx1"><circle cx="577" cy="2665.4"/></g><g id="hx2"><circle cx="577" cy="2685.6"/></g>
<g id="hy1"><circle cx="543.3" cy="2665.4"/></g><g id="hy2"><circle cx="543.3" cy="2685.6"/></g><g id="hy3"><circle cx="543.3" cy="2705.9"/></g><g id="hy4"><circle cx="543.3" cy="2726.2"/></g><g id="hy5"><circle cx="543.3" cy="2746.5"/></g><g id="hy6"><circle cx="545.7" cy="2766.7"/></g><g id="hy7"><circle cx="554.7" cy="2787"/></g><g id="hy8"><circle cx="556" cy="2807.3"/></g><g id="hy9"><circle cx="572.3" cy="2827.5"/></g><g id="hy10"><circle cx="572.3" cy="2847.8"/></g>
<g id="hz1"><circle cx="577" cy="2705.9"/></g><g id="hz2"><circle cx="577" cy="2726.2"/></g>
<g id="ia1"><circle cx="615" cy="2868.1"/></g><g id="ia2"><circle cx="631" cy="2888.3"/></g><g id="ia3"><circle cx="639" cy="2908.6"/></g><g id="ia4"><circle cx="639" cy="2928.9"/></g><g id="ia5"><circle cx="639" cy="2949.2"/></g><g id="ia6"><circle cx="639" cy="2969.4"/></g><g id="ia7"><circle cx="639" cy="2989.7"/></g><g id="ia8"><circle cx="639" cy="3010"/></g><g id="ia9"><circle cx="639" cy="3030.2"/></g><g id="ia10"><circle cx="639" cy="3050.5"/></g><g id="ia11"><circle cx="639" cy="3070.8"/></g><g id="ia12"><circle cx="639" cy="3091"/></g>
<g id="ib1"><circle cx="572.3" cy="2868.1"/></g><g id="ib2"><circle cx="572.3" cy="2888.3"/></g>
<g id="ic1"><circle cx="572.3" cy="2908.6"/></g><g id="ic2"><circle cx="572.3" cy="2928.9"/></g>
<g id="id1"><circle cx="606" cy="2908.6"/></g><g id="id2"><circle cx="606" cy="2928.9"/></g><g id="id3"><circle cx="606" cy="2949.2"/></g><g id="id4"><circle cx="606" cy="2969.4"/></g>
<g id="ie1"><circle cx="539.7" cy="2908.6"/></g><g id="ie2"><circle cx="539.7" cy="2928.9"/></g>
<g id="if1"><circle cx="522" cy="2949.2"/></g><g id="if2"><circle cx="522" cy="2969.4"/></g>
<g id="ig1"><circle cx="556" cy="2949.2"/></g><g id="ig2"><circle cx="556" cy="2969.4"/></g><g id="ig3"><circle cx="556" cy="2989.7"/></g><g id="ig4"><circle cx="556" cy="3010"/></g>
<g id="ih1"><circle cx="602.4" cy="2624.8"/></g><g id="ih2"><circle cx="610" cy="2645.1"/></g>
<g id="ii1"><circle cx="610" cy="2665.4"/></g><g id="ii2"><circle cx="610" cy="2685.6"/></g>
<g id="ij1"><circle cx="642.6" cy="2665.4"/></g><g id="ij2"><circle cx="642.6" cy="2685.6"/></g><g id="ij3"><circle cx="642.6" cy="2705.9"/></g><g id="ij4"><circle cx="642.6" cy="2726.2"/></g><g id="ij5"><circle cx="642.6" cy="2746.5"/></g><g id="ij6"><circle cx="642.6" cy="2766.7"/></g>
<g id="ik1"><circle cx="610" cy="2705.9"/></g><g id="ik2"><circle cx="610" cy="2726.2"/></g><g id="ik3"><circle cx="610" cy="2746.5"/></g><g id="ik4"><circle cx="610" cy="2766.7"/></g>
<g id="il1"><circle cx="610" cy="2787"/></g><g id="il2"><circle cx="610" cy="2807.3"/></g>
<g id="im1"><circle cx="715.4" cy="2584.3"/></g><g id="im2"><circle cx="715.4" cy="2604.6"/></g><g id="im3"><circle cx="731.4" cy="2624.8"/></g><g id="im4"><circle cx="739.5" cy="2645.1"/></g><g id="im5"><circle cx="739.5" cy="2665.4"/></g><g id="im6"><circle cx="743" cy="2685.6"/></g>
<g id="in1"><circle cx="743" cy="2705.9"/></g><g id="in2"><circle cx="743" cy="2726.2"/></g>
<g id="io1"><circle cx="777" cy="2705.9"/></g><g id="io2"><circle cx="777" cy="2726.2"/></g><g id="io3"><circle cx="777" cy="2746.5"/></g><g id="io4"><circle cx="777" cy="2766.7"/></g>
<g id="ip1"><circle cx="681" cy="2584.3"/></g><g id="ip2"><circle cx="681" cy="2604.6"/></g><g id="ip3"><circle cx="681" cy="2624.8"/></g><g id="ip4"><circle cx="681" cy="2645.1"/></g><g id="ip5"><circle cx="681" cy="2665.4"/></g><g id="ip6"><circle cx="681" cy="2685.6"/></g>
<g id="iq1"><circle cx="676.7" cy="2705.9"/></g><g id="iq2"><circle cx="676.7" cy="2726.2"/></g>
<g id="ir1"><circle cx="710.3" cy="2705.9"/></g><g id="ir2"><circle cx="710.3" cy="2726.2"/></g>
<g id="is1"><circle cx="676.7" cy="2746.5"/></g><g id="is2"><circle cx="676.7" cy="2766.7"/></g><g id="is3"><circle cx="676.7" cy="2787"/></g><g id="is4"><circle cx="676.7" cy="2807.3"/></g><g id="is5"><circle cx="676.7" cy="2827.5"/></g><g id="is6"><circle cx="676.7" cy="2847.8"/></g>
<g id="it1"><circle cx="710.3" cy="2746.5"/></g><g id="it2"><circle cx="710.3" cy="2766.7"/></g><g id="it3"><circle cx="710.3" cy="2787"/></g><g id="it4"><circle cx="710.3" cy="2807.3"/></g><g id="it5"><circle cx="710.3" cy="2827.5"/></g><g id="it6"><circle cx="710.3" cy="2847.8"/></g><g id="it7"><circle cx="710.3" cy="2868.1"/></g><g id="it8"><circle cx="710.3" cy="2888.3"/></g>
<g id="iu1"><circle cx="743" cy="2746.5"/></g><g id="iu2"><circle cx="743" cy="2766.7"/></g>
<g id="iv1"><circle cx="642.6" cy="2787"/></g><g id="iv2"><circle cx="642.6" cy="2807.3"/></g>
<g id="iw1"><circle cx="743" cy="2827.5"/></g><g id="iw2"><circle cx="743" cy="2847.8"/></g><g id="iw3"><circle cx="743" cy="2868.1"/></g><g id="iw4"><circle cx="743" cy="2888.3"/></g>
</g>
</svg>
